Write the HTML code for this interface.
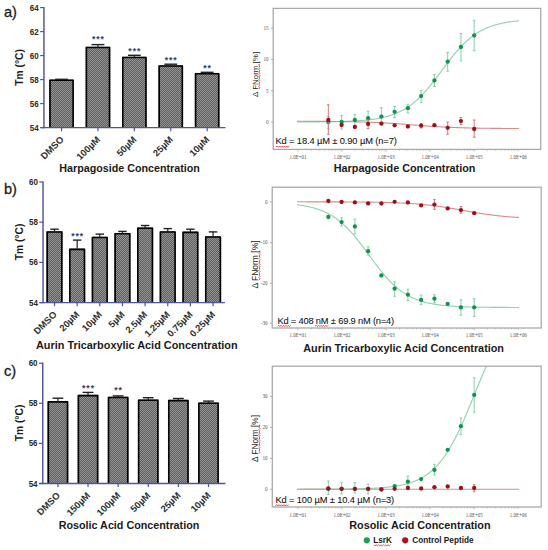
<!DOCTYPE html>
<html><head><meta charset="utf-8"><style>
html,body{margin:0;padding:0;background:#fff;width:548px;height:550px;overflow:hidden}
svg{display:block;font-family:"Liberation Sans",sans-serif}
</style></head><body>
<svg width="548" height="550" viewBox="0 0 548 550">
<defs><pattern id="chk" width="2" height="2" patternUnits="userSpaceOnUse"><rect width="2" height="2" fill="#5e5e5e"/><rect width="1" height="1" fill="#949494"/><rect x="1" y="1" width="1" height="1" fill="#949494"/></pattern></defs>
<line x1="43.95" y1="6.999999999999995" x2="43.95" y2="128.29999999999998" stroke="#52529e" stroke-width="1.45"/>
<line x1="40.150000000000006" y1="127.6" x2="43.95" y2="127.6" stroke="#52529e" stroke-width="1.2"/>
<text x="38.75" y="0" font-size="8.0" font-weight="bold" text-anchor="end" fill="#2a2a2a" transform="translate(0 130.6) scale(1 1.12)">54</text>
<line x1="40.150000000000006" y1="103.6" x2="43.95" y2="103.6" stroke="#52529e" stroke-width="1.2"/>
<text x="38.75" y="0" font-size="8.0" font-weight="bold" text-anchor="end" fill="#2a2a2a" transform="translate(0 106.6) scale(1 1.12)">56</text>
<line x1="40.150000000000006" y1="79.6" x2="43.95" y2="79.6" stroke="#52529e" stroke-width="1.2"/>
<text x="38.75" y="0" font-size="8.0" font-weight="bold" text-anchor="end" fill="#2a2a2a" transform="translate(0 82.6) scale(1 1.12)">58</text>
<line x1="40.150000000000006" y1="55.599999999999994" x2="43.95" y2="55.599999999999994" stroke="#52529e" stroke-width="1.2"/>
<text x="38.75" y="0" font-size="8.0" font-weight="bold" text-anchor="end" fill="#2a2a2a" transform="translate(0 58.599999999999994) scale(1 1.12)">60</text>
<line x1="40.150000000000006" y1="31.599999999999994" x2="43.95" y2="31.599999999999994" stroke="#52529e" stroke-width="1.2"/>
<text x="38.75" y="0" font-size="8.0" font-weight="bold" text-anchor="end" fill="#2a2a2a" transform="translate(0 34.599999999999994) scale(1 1.12)">62</text>
<line x1="40.150000000000006" y1="7.599999999999994" x2="43.95" y2="7.599999999999994" stroke="#52529e" stroke-width="1.2"/>
<text x="38.75" y="0" font-size="8.0" font-weight="bold" text-anchor="end" fill="#2a2a2a" transform="translate(0 10.599999999999994) scale(1 1.12)">64</text>
<rect x="49.2" y="79.5" width="24.7" height="48.099999999999994" fill="url(#chk)"/>
<path d="M50.0,127.6 V80.3 H73.10000000000001 V127.6" fill="none" stroke="#000" stroke-width="1.6" stroke-linejoin="round"/>
<line x1="55.12800000000001" y1="79.3" x2="67.97200000000001" y2="79.3" stroke="#222" stroke-width="1.4"/>
<rect x="85.6" y="46.7" width="24.7" height="80.89999999999999" fill="url(#chk)"/>
<path d="M86.39999999999999,127.6 V47.5 H109.5 V127.6" fill="none" stroke="#000" stroke-width="1.6" stroke-linejoin="round"/>
<line x1="97.94999999999999" y1="44.6" x2="97.94999999999999" y2="47.7" stroke="#222" stroke-width="1.2"/>
<line x1="91.52799999999999" y1="44.6" x2="104.37199999999999" y2="44.6" stroke="#222" stroke-width="1.4"/>
<text x="93.64999999999999" y="41.8" font-size="8.6" font-weight="bold" text-anchor="middle" fill="#323a62">*</text>
<text x="97.94999999999999" y="41.8" font-size="8.6" font-weight="bold" text-anchor="middle" fill="#323a62">*</text>
<text x="102.24999999999999" y="41.8" font-size="8.6" font-weight="bold" text-anchor="middle" fill="#323a62">*</text>
<rect x="122.0" y="56.7" width="24.7" height="70.89999999999999" fill="url(#chk)"/>
<path d="M122.8,127.6 V57.5 H145.89999999999998 V127.6" fill="none" stroke="#000" stroke-width="1.6" stroke-linejoin="round"/>
<line x1="134.35" y1="55.3" x2="134.35" y2="57.7" stroke="#222" stroke-width="1.2"/>
<line x1="127.928" y1="55.3" x2="140.772" y2="55.3" stroke="#222" stroke-width="1.4"/>
<text x="130.04999999999998" y="53.699999999999996" font-size="8.6" font-weight="bold" text-anchor="middle" fill="#323a62">*</text>
<text x="134.35" y="53.699999999999996" font-size="8.6" font-weight="bold" text-anchor="middle" fill="#323a62">*</text>
<text x="138.65" y="53.699999999999996" font-size="8.6" font-weight="bold" text-anchor="middle" fill="#323a62">*</text>
<rect x="158.39999999999998" y="65.2" width="24.7" height="62.39999999999999" fill="url(#chk)"/>
<path d="M159.2,127.6 V66.0 H182.29999999999995 V127.6" fill="none" stroke="#000" stroke-width="1.6" stroke-linejoin="round"/>
<line x1="170.74999999999997" y1="64.2" x2="170.74999999999997" y2="66.2" stroke="#222" stroke-width="1.2"/>
<line x1="164.32799999999997" y1="64.2" x2="177.17199999999997" y2="64.2" stroke="#222" stroke-width="1.4"/>
<text x="166.44999999999996" y="63.1" font-size="8.6" font-weight="bold" text-anchor="middle" fill="#323a62">*</text>
<text x="170.74999999999997" y="63.1" font-size="8.6" font-weight="bold" text-anchor="middle" fill="#323a62">*</text>
<text x="175.04999999999998" y="63.1" font-size="8.6" font-weight="bold" text-anchor="middle" fill="#323a62">*</text>
<rect x="194.8" y="72.9" width="24.7" height="54.69999999999999" fill="url(#chk)"/>
<path d="M195.60000000000002,127.6 V73.7 H218.7 V127.6" fill="none" stroke="#000" stroke-width="1.6" stroke-linejoin="round"/>
<line x1="207.15" y1="72.3" x2="207.15" y2="73.9" stroke="#222" stroke-width="1.2"/>
<line x1="200.728" y1="72.3" x2="213.572" y2="72.3" stroke="#222" stroke-width="1.4"/>
<text x="205.0" y="71.30000000000001" font-size="8.6" font-weight="bold" text-anchor="middle" fill="#323a62">*</text>
<text x="209.3" y="71.30000000000001" font-size="8.6" font-weight="bold" text-anchor="middle" fill="#323a62">*</text>
<line x1="40.6" y1="127.6" x2="225.5" y2="127.6" stroke="#52529e" stroke-width="1.4"/>
<line x1="61.550000000000004" y1="127.6" x2="61.550000000000004" y2="131.2" stroke="#52529e" stroke-width="1.2"/>
<text x="64.35000000000001" y="140.2" font-size="9.4" font-weight="bold" text-anchor="end" fill="#303030" transform="rotate(-45 64.35000000000001 140.2)">DMSO</text>
<line x1="97.94999999999999" y1="127.6" x2="97.94999999999999" y2="131.2" stroke="#52529e" stroke-width="1.2"/>
<text x="100.74999999999999" y="140.2" font-size="9.4" font-weight="bold" text-anchor="end" fill="#303030" transform="rotate(-45 100.74999999999999 140.2)">100µM</text>
<line x1="134.35" y1="127.6" x2="134.35" y2="131.2" stroke="#52529e" stroke-width="1.2"/>
<text x="137.15" y="140.2" font-size="9.4" font-weight="bold" text-anchor="end" fill="#303030" transform="rotate(-45 137.15 140.2)">50µM</text>
<line x1="170.74999999999997" y1="127.6" x2="170.74999999999997" y2="131.2" stroke="#52529e" stroke-width="1.2"/>
<text x="173.54999999999998" y="140.2" font-size="9.4" font-weight="bold" text-anchor="end" fill="#303030" transform="rotate(-45 173.54999999999998 140.2)">25µM</text>
<line x1="207.15" y1="127.6" x2="207.15" y2="131.2" stroke="#52529e" stroke-width="1.2"/>
<text x="209.95000000000002" y="140.2" font-size="9.4" font-weight="bold" text-anchor="end" fill="#303030" transform="rotate(-45 209.95000000000002 140.2)">10µM</text>
<text x="59.3" y="0" font-size="10.8" font-weight="bold" fill="#1a1a1a" textLength="140.5" lengthAdjust="spacingAndGlyphs" transform="translate(0 171.6) scale(1 0.95)">Harpagoside Concentration</text>
<text x="23.0" y="67.4" font-size="10.3" font-weight="bold" text-anchor="middle" fill="#1a1a1a" transform="rotate(-90 23.0 67.4)">Tm (°C)</text>
<line x1="43.05" y1="181.4" x2="43.05" y2="303.3" stroke="#52529e" stroke-width="1.45"/>
<line x1="39.25" y1="302.6" x2="43.05" y2="302.6" stroke="#52529e" stroke-width="1.2"/>
<text x="37.849999999999994" y="0" font-size="8.0" font-weight="bold" text-anchor="end" fill="#2a2a2a" transform="translate(0 305.6) scale(1 1.12)">54</text>
<line x1="39.25" y1="262.40000000000003" x2="43.05" y2="262.40000000000003" stroke="#52529e" stroke-width="1.2"/>
<text x="37.849999999999994" y="0" font-size="8.0" font-weight="bold" text-anchor="end" fill="#2a2a2a" transform="translate(0 265.40000000000003) scale(1 1.12)">56</text>
<line x1="39.25" y1="222.20000000000002" x2="43.05" y2="222.20000000000002" stroke="#52529e" stroke-width="1.2"/>
<text x="37.849999999999994" y="0" font-size="8.0" font-weight="bold" text-anchor="end" fill="#2a2a2a" transform="translate(0 225.20000000000002) scale(1 1.12)">58</text>
<line x1="39.25" y1="182.0" x2="43.05" y2="182.0" stroke="#52529e" stroke-width="1.2"/>
<text x="37.849999999999994" y="0" font-size="8.0" font-weight="bold" text-anchor="end" fill="#2a2a2a" transform="translate(0 185.0) scale(1 1.12)">60</text>
<rect x="46.4" y="231.2" width="16.2" height="71.40000000000003" fill="url(#chk)"/>
<path d="M47.199999999999996,302.6 V232.0 H61.8 V302.6" fill="none" stroke="#000" stroke-width="1.6" stroke-linejoin="round"/>
<line x1="54.5" y1="229.2" x2="54.5" y2="232.2" stroke="#222" stroke-width="1.2"/>
<line x1="50.288" y1="229.2" x2="58.712" y2="229.2" stroke="#222" stroke-width="1.4"/>
<rect x="69.05" y="248.6" width="16.2" height="54.00000000000003" fill="url(#chk)"/>
<path d="M69.85,302.6 V249.4 H84.45 V302.6" fill="none" stroke="#000" stroke-width="1.6" stroke-linejoin="round"/>
<line x1="77.14999999999999" y1="240.1" x2="77.14999999999999" y2="249.6" stroke="#222" stroke-width="1.2"/>
<line x1="72.93799999999999" y1="240.1" x2="81.362" y2="240.1" stroke="#222" stroke-width="1.4"/>
<text x="72.85" y="238.8" font-size="8.6" font-weight="bold" text-anchor="middle" fill="#323a62">*</text>
<text x="77.14999999999999" y="238.8" font-size="8.6" font-weight="bold" text-anchor="middle" fill="#323a62">*</text>
<text x="81.44999999999999" y="238.8" font-size="8.6" font-weight="bold" text-anchor="middle" fill="#323a62">*</text>
<rect x="91.69999999999999" y="236.7" width="16.2" height="65.90000000000003" fill="url(#chk)"/>
<path d="M92.49999999999999,302.6 V237.5 H107.1 V302.6" fill="none" stroke="#000" stroke-width="1.6" stroke-linejoin="round"/>
<line x1="99.79999999999998" y1="234.1" x2="99.79999999999998" y2="237.7" stroke="#222" stroke-width="1.2"/>
<line x1="95.58799999999998" y1="234.1" x2="104.01199999999999" y2="234.1" stroke="#222" stroke-width="1.4"/>
<rect x="114.35" y="232.89999999999998" width="16.2" height="69.70000000000005" fill="url(#chk)"/>
<path d="M115.14999999999999,302.6 V233.7 H129.74999999999997 V302.6" fill="none" stroke="#000" stroke-width="1.6" stroke-linejoin="round"/>
<line x1="122.44999999999999" y1="231.4" x2="122.44999999999999" y2="233.89999999999998" stroke="#222" stroke-width="1.2"/>
<line x1="118.23799999999999" y1="231.4" x2="126.66199999999999" y2="231.4" stroke="#222" stroke-width="1.4"/>
<rect x="137.0" y="227.39999999999998" width="16.2" height="75.20000000000005" fill="url(#chk)"/>
<path d="M137.8,302.6 V228.2 H152.39999999999998 V302.6" fill="none" stroke="#000" stroke-width="1.6" stroke-linejoin="round"/>
<line x1="145.1" y1="225.5" x2="145.1" y2="228.39999999999998" stroke="#222" stroke-width="1.2"/>
<line x1="140.888" y1="225.5" x2="149.31199999999998" y2="225.5" stroke="#222" stroke-width="1.4"/>
<rect x="159.65" y="231.2" width="16.2" height="71.40000000000003" fill="url(#chk)"/>
<path d="M160.45000000000002,302.6 V232.0 H175.04999999999998 V302.6" fill="none" stroke="#000" stroke-width="1.6" stroke-linejoin="round"/>
<line x1="167.75" y1="228.6" x2="167.75" y2="232.2" stroke="#222" stroke-width="1.2"/>
<line x1="163.538" y1="228.6" x2="171.962" y2="228.6" stroke="#222" stroke-width="1.4"/>
<rect x="182.29999999999998" y="231.6" width="16.2" height="71.00000000000003" fill="url(#chk)"/>
<path d="M183.1,302.6 V232.4 H197.69999999999996 V302.6" fill="none" stroke="#000" stroke-width="1.6" stroke-linejoin="round"/>
<line x1="190.39999999999998" y1="229.2" x2="190.39999999999998" y2="232.6" stroke="#222" stroke-width="1.2"/>
<line x1="186.188" y1="229.2" x2="194.61199999999997" y2="229.2" stroke="#222" stroke-width="1.4"/>
<rect x="204.95" y="236.2" width="16.2" height="66.40000000000003" fill="url(#chk)"/>
<path d="M205.75,302.6 V237.0 H220.34999999999997 V302.6" fill="none" stroke="#000" stroke-width="1.6" stroke-linejoin="round"/>
<line x1="213.04999999999998" y1="231.9" x2="213.04999999999998" y2="237.2" stroke="#222" stroke-width="1.2"/>
<line x1="208.838" y1="231.9" x2="217.26199999999997" y2="231.9" stroke="#222" stroke-width="1.4"/>
<line x1="39.6" y1="302.6" x2="224.9" y2="302.6" stroke="#52529e" stroke-width="1.4"/>
<line x1="54.5" y1="302.6" x2="54.5" y2="306.20000000000005" stroke="#52529e" stroke-width="1.2"/>
<text x="57.3" y="315.20000000000005" font-size="9.4" font-weight="bold" text-anchor="end" fill="#303030" transform="rotate(-45 57.3 315.20000000000005)">DMSO</text>
<line x1="77.14999999999999" y1="302.6" x2="77.14999999999999" y2="306.20000000000005" stroke="#52529e" stroke-width="1.2"/>
<text x="79.94999999999999" y="315.20000000000005" font-size="9.4" font-weight="bold" text-anchor="end" fill="#303030" transform="rotate(-45 79.94999999999999 315.20000000000005)">20µM</text>
<line x1="99.79999999999998" y1="302.6" x2="99.79999999999998" y2="306.20000000000005" stroke="#52529e" stroke-width="1.2"/>
<text x="102.59999999999998" y="315.20000000000005" font-size="9.4" font-weight="bold" text-anchor="end" fill="#303030" transform="rotate(-45 102.59999999999998 315.20000000000005)">10µM</text>
<line x1="122.44999999999999" y1="302.6" x2="122.44999999999999" y2="306.20000000000005" stroke="#52529e" stroke-width="1.2"/>
<text x="125.24999999999999" y="315.20000000000005" font-size="9.4" font-weight="bold" text-anchor="end" fill="#303030" transform="rotate(-45 125.24999999999999 315.20000000000005)">5µM</text>
<line x1="145.1" y1="302.6" x2="145.1" y2="306.20000000000005" stroke="#52529e" stroke-width="1.2"/>
<text x="147.9" y="315.20000000000005" font-size="9.4" font-weight="bold" text-anchor="end" fill="#303030" transform="rotate(-45 147.9 315.20000000000005)">2.5µM</text>
<line x1="167.75" y1="302.6" x2="167.75" y2="306.20000000000005" stroke="#52529e" stroke-width="1.2"/>
<text x="170.55" y="315.20000000000005" font-size="9.4" font-weight="bold" text-anchor="end" fill="#303030" transform="rotate(-45 170.55 315.20000000000005)">1.25µM</text>
<line x1="190.39999999999998" y1="302.6" x2="190.39999999999998" y2="306.20000000000005" stroke="#52529e" stroke-width="1.2"/>
<text x="193.2" y="315.20000000000005" font-size="9.4" font-weight="bold" text-anchor="end" fill="#303030" transform="rotate(-45 193.2 315.20000000000005)">0.75µM</text>
<line x1="213.04999999999998" y1="302.6" x2="213.04999999999998" y2="306.20000000000005" stroke="#52529e" stroke-width="1.2"/>
<text x="215.85" y="315.20000000000005" font-size="9.4" font-weight="bold" text-anchor="end" fill="#303030" transform="rotate(-45 215.85 315.20000000000005)">0.25µM</text>
<text x="36.0" y="0" font-size="10.8" font-weight="bold" fill="#1a1a1a" textLength="201.6" lengthAdjust="spacingAndGlyphs" transform="translate(0 349.3) scale(1 0.95)">Aurin Tricarboxylic Acid Concentration</text>
<text x="22.8" y="242.0" font-size="10.3" font-weight="bold" text-anchor="middle" fill="#1a1a1a" transform="rotate(-90 22.8 242.0)">Tm (°C)</text>
<line x1="42.75" y1="362.59999999999997" x2="42.75" y2="484.2" stroke="#52529e" stroke-width="1.45"/>
<line x1="38.95" y1="483.5" x2="42.75" y2="483.5" stroke="#52529e" stroke-width="1.2"/>
<text x="37.55" y="0" font-size="8.0" font-weight="bold" text-anchor="end" fill="#2a2a2a" transform="translate(0 486.5) scale(1 1.12)">54</text>
<line x1="38.95" y1="443.4" x2="42.75" y2="443.4" stroke="#52529e" stroke-width="1.2"/>
<text x="37.55" y="0" font-size="8.0" font-weight="bold" text-anchor="end" fill="#2a2a2a" transform="translate(0 446.4) scale(1 1.12)">56</text>
<line x1="38.95" y1="403.3" x2="42.75" y2="403.3" stroke="#52529e" stroke-width="1.2"/>
<text x="37.55" y="0" font-size="8.0" font-weight="bold" text-anchor="end" fill="#2a2a2a" transform="translate(0 406.3) scale(1 1.12)">58</text>
<line x1="38.95" y1="363.2" x2="42.75" y2="363.2" stroke="#52529e" stroke-width="1.2"/>
<text x="37.55" y="0" font-size="8.0" font-weight="bold" text-anchor="end" fill="#2a2a2a" transform="translate(0 366.2) scale(1 1.12)">60</text>
<rect x="47.5" y="401.09999999999997" width="20.8" height="82.40000000000003" fill="url(#chk)"/>
<path d="M48.3,483.5 V401.9 H67.5 V483.5" fill="none" stroke="#000" stroke-width="1.6" stroke-linejoin="round"/>
<line x1="57.9" y1="398.2" x2="57.9" y2="402.09999999999997" stroke="#222" stroke-width="1.2"/>
<line x1="52.492" y1="398.2" x2="63.308" y2="398.2" stroke="#222" stroke-width="1.4"/>
<rect x="77.62" y="394.8" width="20.8" height="88.69999999999999" fill="url(#chk)"/>
<path d="M78.42,483.5 V395.6 H97.62 V483.5" fill="none" stroke="#000" stroke-width="1.6" stroke-linejoin="round"/>
<line x1="88.02000000000001" y1="392.4" x2="88.02000000000001" y2="395.8" stroke="#222" stroke-width="1.2"/>
<line x1="82.61200000000001" y1="392.4" x2="93.42800000000001" y2="392.4" stroke="#222" stroke-width="1.4"/>
<text x="83.72000000000001" y="391.0" font-size="8.6" font-weight="bold" text-anchor="middle" fill="#323a62">*</text>
<text x="88.02000000000001" y="391.0" font-size="8.6" font-weight="bold" text-anchor="middle" fill="#323a62">*</text>
<text x="92.32000000000001" y="391.0" font-size="8.6" font-weight="bold" text-anchor="middle" fill="#323a62">*</text>
<rect x="107.74000000000001" y="396.7" width="20.8" height="86.80000000000001" fill="url(#chk)"/>
<path d="M108.54,483.5 V397.5 H127.74000000000002 V483.5" fill="none" stroke="#000" stroke-width="1.6" stroke-linejoin="round"/>
<line x1="118.14000000000001" y1="395.9" x2="118.14000000000001" y2="397.7" stroke="#222" stroke-width="1.2"/>
<line x1="112.73200000000001" y1="395.9" x2="123.54800000000002" y2="395.9" stroke="#222" stroke-width="1.4"/>
<text x="115.99000000000001" y="393.4" font-size="8.6" font-weight="bold" text-anchor="middle" fill="#323a62">*</text>
<text x="120.29000000000002" y="393.4" font-size="8.6" font-weight="bold" text-anchor="middle" fill="#323a62">*</text>
<rect x="137.86" y="399.4" width="20.8" height="84.10000000000002" fill="url(#chk)"/>
<path d="M138.66000000000003,483.5 V400.2 H157.86 V483.5" fill="none" stroke="#000" stroke-width="1.6" stroke-linejoin="round"/>
<line x1="148.26000000000002" y1="397.7" x2="148.26000000000002" y2="400.4" stroke="#222" stroke-width="1.2"/>
<line x1="142.85200000000003" y1="397.7" x2="153.668" y2="397.7" stroke="#222" stroke-width="1.4"/>
<rect x="167.98000000000002" y="399.8" width="20.8" height="83.69999999999999" fill="url(#chk)"/>
<path d="M168.78000000000003,483.5 V400.6 H187.98000000000002 V483.5" fill="none" stroke="#000" stroke-width="1.6" stroke-linejoin="round"/>
<line x1="178.38000000000002" y1="398.5" x2="178.38000000000002" y2="400.8" stroke="#222" stroke-width="1.2"/>
<line x1="172.97200000000004" y1="398.5" x2="183.788" y2="398.5" stroke="#222" stroke-width="1.4"/>
<rect x="198.1" y="402.4" width="20.8" height="81.10000000000002" fill="url(#chk)"/>
<path d="M198.9,483.5 V403.2 H218.1 V483.5" fill="none" stroke="#000" stroke-width="1.6" stroke-linejoin="round"/>
<line x1="208.5" y1="401.1" x2="208.5" y2="403.4" stroke="#222" stroke-width="1.2"/>
<line x1="203.092" y1="401.1" x2="213.908" y2="401.1" stroke="#222" stroke-width="1.4"/>
<line x1="39.2" y1="483.5" x2="225.4" y2="483.5" stroke="#52529e" stroke-width="1.4"/>
<line x1="57.9" y1="483.5" x2="57.9" y2="487.1" stroke="#52529e" stroke-width="1.2"/>
<text x="60.699999999999996" y="496.1" font-size="9.4" font-weight="bold" text-anchor="end" fill="#303030" transform="rotate(-45 60.699999999999996 496.1)">DMSO</text>
<line x1="88.02000000000001" y1="483.5" x2="88.02000000000001" y2="487.1" stroke="#52529e" stroke-width="1.2"/>
<text x="90.82000000000001" y="496.1" font-size="9.4" font-weight="bold" text-anchor="end" fill="#303030" transform="rotate(-45 90.82000000000001 496.1)">150µM</text>
<line x1="118.14000000000001" y1="483.5" x2="118.14000000000001" y2="487.1" stroke="#52529e" stroke-width="1.2"/>
<text x="120.94000000000001" y="496.1" font-size="9.4" font-weight="bold" text-anchor="end" fill="#303030" transform="rotate(-45 120.94000000000001 496.1)">100µM</text>
<line x1="148.26000000000002" y1="483.5" x2="148.26000000000002" y2="487.1" stroke="#52529e" stroke-width="1.2"/>
<text x="151.06000000000003" y="496.1" font-size="9.4" font-weight="bold" text-anchor="end" fill="#303030" transform="rotate(-45 151.06000000000003 496.1)">50µM</text>
<line x1="178.38000000000002" y1="483.5" x2="178.38000000000002" y2="487.1" stroke="#52529e" stroke-width="1.2"/>
<text x="181.18000000000004" y="496.1" font-size="9.4" font-weight="bold" text-anchor="end" fill="#303030" transform="rotate(-45 181.18000000000004 496.1)">25µM</text>
<line x1="208.5" y1="483.5" x2="208.5" y2="487.1" stroke="#52529e" stroke-width="1.2"/>
<text x="211.3" y="496.1" font-size="9.4" font-weight="bold" text-anchor="end" fill="#303030" transform="rotate(-45 211.3 496.1)">10µM</text>
<text x="58.7" y="0" font-size="10.8" font-weight="bold" fill="#1a1a1a" textLength="140.60000000000002" lengthAdjust="spacingAndGlyphs" transform="translate(0 529.0) scale(1 0.95)">Rosolic Acid Concentration</text>
<text x="22.8" y="423.0" font-size="10.3" font-weight="bold" text-anchor="middle" fill="#1a1a1a" transform="rotate(-90 22.8 423.0)">Tm (°C)</text>
<text x="3.9" y="16.6" font-size="14.6" fill="#1a1a1a" stroke="#1a1a1a" stroke-width="0.3">a)</text>
<text x="3.9" y="193.8" font-size="14.6" fill="#1a1a1a" stroke="#1a1a1a" stroke-width="0.3">b)</text>
<text x="3.9" y="376.4" font-size="14.6" fill="#1a1a1a" stroke="#1a1a1a" stroke-width="0.3">c)</text>
<clipPath id="ca"><rect x="273.2" y="8.4" width="267.50000000000006" height="141.0"/></clipPath>
<line x1="271.0" y1="28.2" x2="273.2" y2="28.2" stroke="#999" stroke-width="0.8"/>
<text x="268.59999999999997" y="29.9" font-family="Liberation Serif" font-size="5.2" text-anchor="end" fill="#555">15</text>
<line x1="271.0" y1="59.5" x2="273.2" y2="59.5" stroke="#999" stroke-width="0.8"/>
<text x="268.59999999999997" y="61.2" font-family="Liberation Serif" font-size="5.2" text-anchor="end" fill="#555">10</text>
<line x1="271.0" y1="90.8" x2="273.2" y2="90.8" stroke="#999" stroke-width="0.8"/>
<text x="268.59999999999997" y="92.5" font-family="Liberation Serif" font-size="5.2" text-anchor="end" fill="#555">5</text>
<line x1="271.0" y1="122.1" x2="273.2" y2="122.1" stroke="#999" stroke-width="0.8"/>
<text x="268.59999999999997" y="123.8" font-family="Liberation Serif" font-size="5.2" text-anchor="end" fill="#555">0</text>
<line x1="298.00" y1="149.4" x2="298.00" y2="151.6" stroke="#999" stroke-width="0.7"/>
<line x1="311.26" y1="149.4" x2="311.26" y2="150.70000000000002" stroke="#999" stroke-width="0.7"/>
<line x1="319.02" y1="149.4" x2="319.02" y2="150.70000000000002" stroke="#999" stroke-width="0.7"/>
<line x1="324.52" y1="149.4" x2="324.52" y2="150.70000000000002" stroke="#999" stroke-width="0.7"/>
<line x1="328.79" y1="149.4" x2="328.79" y2="150.70000000000002" stroke="#999" stroke-width="0.7"/>
<line x1="332.28" y1="149.4" x2="332.28" y2="150.70000000000002" stroke="#999" stroke-width="0.7"/>
<line x1="335.23" y1="149.4" x2="335.23" y2="150.70000000000002" stroke="#999" stroke-width="0.7"/>
<line x1="337.78" y1="149.4" x2="337.78" y2="150.70000000000002" stroke="#999" stroke-width="0.7"/>
<line x1="340.03" y1="149.4" x2="340.03" y2="150.70000000000002" stroke="#999" stroke-width="0.7"/>
<line x1="342.05" y1="149.4" x2="342.05" y2="151.6" stroke="#999" stroke-width="0.7"/>
<line x1="355.31" y1="149.4" x2="355.31" y2="150.70000000000002" stroke="#999" stroke-width="0.7"/>
<line x1="363.07" y1="149.4" x2="363.07" y2="150.70000000000002" stroke="#999" stroke-width="0.7"/>
<line x1="368.57" y1="149.4" x2="368.57" y2="150.70000000000002" stroke="#999" stroke-width="0.7"/>
<line x1="372.84" y1="149.4" x2="372.84" y2="150.70000000000002" stroke="#999" stroke-width="0.7"/>
<line x1="376.33" y1="149.4" x2="376.33" y2="150.70000000000002" stroke="#999" stroke-width="0.7"/>
<line x1="379.28" y1="149.4" x2="379.28" y2="150.70000000000002" stroke="#999" stroke-width="0.7"/>
<line x1="381.83" y1="149.4" x2="381.83" y2="150.70000000000002" stroke="#999" stroke-width="0.7"/>
<line x1="384.08" y1="149.4" x2="384.08" y2="150.70000000000002" stroke="#999" stroke-width="0.7"/>
<line x1="386.10" y1="149.4" x2="386.10" y2="151.6" stroke="#999" stroke-width="0.7"/>
<line x1="399.36" y1="149.4" x2="399.36" y2="150.70000000000002" stroke="#999" stroke-width="0.7"/>
<line x1="407.12" y1="149.4" x2="407.12" y2="150.70000000000002" stroke="#999" stroke-width="0.7"/>
<line x1="412.62" y1="149.4" x2="412.62" y2="150.70000000000002" stroke="#999" stroke-width="0.7"/>
<line x1="416.89" y1="149.4" x2="416.89" y2="150.70000000000002" stroke="#999" stroke-width="0.7"/>
<line x1="420.38" y1="149.4" x2="420.38" y2="150.70000000000002" stroke="#999" stroke-width="0.7"/>
<line x1="423.33" y1="149.4" x2="423.33" y2="150.70000000000002" stroke="#999" stroke-width="0.7"/>
<line x1="425.88" y1="149.4" x2="425.88" y2="150.70000000000002" stroke="#999" stroke-width="0.7"/>
<line x1="428.13" y1="149.4" x2="428.13" y2="150.70000000000002" stroke="#999" stroke-width="0.7"/>
<line x1="430.15" y1="149.4" x2="430.15" y2="151.6" stroke="#999" stroke-width="0.7"/>
<line x1="443.41" y1="149.4" x2="443.41" y2="150.70000000000002" stroke="#999" stroke-width="0.7"/>
<line x1="451.17" y1="149.4" x2="451.17" y2="150.70000000000002" stroke="#999" stroke-width="0.7"/>
<line x1="456.67" y1="149.4" x2="456.67" y2="150.70000000000002" stroke="#999" stroke-width="0.7"/>
<line x1="460.94" y1="149.4" x2="460.94" y2="150.70000000000002" stroke="#999" stroke-width="0.7"/>
<line x1="464.43" y1="149.4" x2="464.43" y2="150.70000000000002" stroke="#999" stroke-width="0.7"/>
<line x1="467.38" y1="149.4" x2="467.38" y2="150.70000000000002" stroke="#999" stroke-width="0.7"/>
<line x1="469.93" y1="149.4" x2="469.93" y2="150.70000000000002" stroke="#999" stroke-width="0.7"/>
<line x1="472.18" y1="149.4" x2="472.18" y2="150.70000000000002" stroke="#999" stroke-width="0.7"/>
<line x1="474.20" y1="149.4" x2="474.20" y2="151.6" stroke="#999" stroke-width="0.7"/>
<line x1="487.46" y1="149.4" x2="487.46" y2="150.70000000000002" stroke="#999" stroke-width="0.7"/>
<line x1="495.22" y1="149.4" x2="495.22" y2="150.70000000000002" stroke="#999" stroke-width="0.7"/>
<line x1="500.72" y1="149.4" x2="500.72" y2="150.70000000000002" stroke="#999" stroke-width="0.7"/>
<line x1="504.99" y1="149.4" x2="504.99" y2="150.70000000000002" stroke="#999" stroke-width="0.7"/>
<line x1="508.48" y1="149.4" x2="508.48" y2="150.70000000000002" stroke="#999" stroke-width="0.7"/>
<line x1="511.43" y1="149.4" x2="511.43" y2="150.70000000000002" stroke="#999" stroke-width="0.7"/>
<line x1="513.98" y1="149.4" x2="513.98" y2="150.70000000000002" stroke="#999" stroke-width="0.7"/>
<line x1="516.23" y1="149.4" x2="516.23" y2="150.70000000000002" stroke="#999" stroke-width="0.7"/>
<line x1="518.25" y1="149.4" x2="518.25" y2="151.6" stroke="#aaa" stroke-width="0.6"/>
<text x="298.00" y="0" font-family="Liberation Serif" font-size="5.0" text-anchor="middle" fill="#555" transform="translate(0 159.0) scale(1 1.25)">1.0E+01</text>
<text x="342.05" y="0" font-family="Liberation Serif" font-size="5.0" text-anchor="middle" fill="#555" transform="translate(0 159.0) scale(1 1.25)">1.0E+02</text>
<text x="386.10" y="0" font-family="Liberation Serif" font-size="5.0" text-anchor="middle" fill="#555" transform="translate(0 159.0) scale(1 1.25)">1.0E+03</text>
<text x="430.15" y="0" font-family="Liberation Serif" font-size="5.0" text-anchor="middle" fill="#555" transform="translate(0 159.0) scale(1 1.25)">1.0E+04</text>
<text x="474.20" y="0" font-family="Liberation Serif" font-size="5.0" text-anchor="middle" fill="#555" transform="translate(0 159.0) scale(1 1.25)">1.0E+05</text>
<text x="518.25" y="0" font-family="Liberation Serif" font-size="5.0" text-anchor="middle" fill="#555" transform="translate(0 159.0) scale(1 1.25)">1.0E+06</text>
<polyline points="297.0,121.95 298.0,121.94 299.0,121.94 300.0,121.94 301.0,121.93 302.0,121.93 303.0,121.93 304.0,121.92 305.0,121.92 306.0,121.92 307.0,121.91 308.0,121.91 309.0,121.90 310.0,121.90 311.0,121.89 312.0,121.88 313.0,121.88 314.0,121.87 315.0,121.86 316.0,121.86 317.0,121.85 318.0,121.84 319.0,121.83 320.0,121.82 321.0,121.81 322.0,121.80 323.0,121.79 324.0,121.78 325.0,121.77 326.0,121.76 327.0,121.75 328.0,121.73 329.0,121.72 330.0,121.70 331.0,121.69 332.0,121.67 333.0,121.65 334.0,121.63 335.0,121.61 336.0,121.59 337.0,121.57 338.0,121.55 339.0,121.53 340.0,121.50 341.0,121.47 342.0,121.44 343.0,121.42 344.0,121.38 345.0,121.35 346.0,121.32 347.0,121.28 348.0,121.24 349.0,121.20 350.0,121.16 351.0,121.11 352.0,121.07 353.0,121.02 354.0,120.97 355.0,120.91 356.0,120.85 357.0,120.79 358.0,120.73 359.0,120.66 360.0,120.59 361.0,120.52 362.0,120.44 363.0,120.35 364.0,120.27 365.0,120.18 366.0,120.08 367.0,119.98 368.0,119.87 369.0,119.76 370.0,119.64 371.0,119.52 372.0,119.39 373.0,119.25 374.0,119.11 375.0,118.96 376.0,118.80 377.0,118.64 378.0,118.46 379.0,118.28 380.0,118.09 381.0,117.89 382.0,117.67 383.0,117.45 384.0,117.22 385.0,116.97 386.0,116.72 387.0,116.45 388.0,116.17 389.0,115.88 390.0,115.57 391.0,115.25 392.0,114.91 393.0,114.55 394.0,114.19 395.0,113.80 396.0,113.40 397.0,112.97 398.0,112.53 399.0,112.08 400.0,111.60 401.0,111.10 402.0,110.58 403.0,110.04 404.0,109.47 405.0,108.89 406.0,108.28 407.0,107.64 408.0,106.98 409.0,106.30 410.0,105.59 411.0,104.86 412.0,104.10 413.0,103.31 414.0,102.50 415.0,101.66 416.0,100.79 417.0,99.90 418.0,98.98 419.0,98.03 420.0,97.06 421.0,96.05 422.0,95.03 423.0,93.97 424.0,92.89 425.0,91.79 426.0,90.66 427.0,89.51 428.0,88.34 429.0,87.14 430.0,85.93 431.0,84.69 432.0,83.44 433.0,82.17 434.0,80.89 435.0,79.59 436.0,78.28 437.0,76.96 438.0,75.63 439.0,74.29 440.0,72.95 441.0,71.61 442.0,70.26 443.0,68.92 444.0,67.57 445.0,66.23 446.0,64.90 447.0,63.57 448.0,62.26 449.0,60.95 450.0,59.66 451.0,58.38 452.0,57.12 453.0,55.87 454.0,54.64 455.0,53.43 456.0,52.25 457.0,51.08 458.0,49.94 459.0,48.82 460.0,47.72 461.0,46.65 462.0,45.61 463.0,44.59 464.0,43.60 465.0,42.63 466.0,41.69 467.0,40.78 468.0,39.90 469.0,39.04 470.0,38.21 471.0,37.41 472.0,36.63 473.0,35.88 474.0,35.15 475.0,34.46 476.0,33.78 477.0,33.13 478.0,32.51 479.0,31.90 480.0,31.33 481.0,30.77 482.0,30.24 483.0,29.72 484.0,29.23 485.0,28.76 486.0,28.31 487.0,27.87 488.0,27.46 489.0,27.06 490.0,26.68 491.0,26.32 492.0,25.97 493.0,25.64 494.0,25.32 495.0,25.02 496.0,24.73 497.0,24.45 498.0,24.19 499.0,23.94 500.0,23.70 501.0,23.47 502.0,23.25 503.0,23.04 504.0,22.84 505.0,22.66 506.0,22.48 507.0,22.30 508.0,22.14 509.0,21.99 510.0,21.84 511.0,21.70 512.0,21.56 513.0,21.44 514.0,21.31 515.0,21.20 516.0,21.09 517.0,20.99 518.0,20.89 519.0,20.79" fill="none" stroke="#8fd0b0" stroke-width="1.1" clip-path="url(#ca)"/>
<polyline points="297.0,121.26 298.0,121.26 299.0,121.26 300.0,121.27 301.0,121.27 302.0,121.27 303.0,121.28 304.0,121.28 305.0,121.28 306.0,121.29 307.0,121.29 308.0,121.29 309.0,121.30 310.0,121.30 311.0,121.30 312.0,121.31 313.0,121.31 314.0,121.32 315.0,121.32 316.0,121.33 317.0,121.33 318.0,121.34 319.0,121.35 320.0,121.35 321.0,121.36 322.0,121.36 323.0,121.37 324.0,121.38 325.0,121.39 326.0,121.39 327.0,121.40 328.0,121.41 329.0,121.42 330.0,121.43 331.0,121.44 332.0,121.45 333.0,121.46 334.0,121.47 335.0,121.48 336.0,121.49 337.0,121.50 338.0,121.51 339.0,121.53 340.0,121.54 341.0,121.55 342.0,121.57 343.0,121.58 344.0,121.60 345.0,121.61 346.0,121.63 347.0,121.65 348.0,121.67 349.0,121.69 350.0,121.70 351.0,121.72 352.0,121.75 353.0,121.77 354.0,121.79 355.0,121.81 356.0,121.84 357.0,121.86 358.0,121.89 359.0,121.91 360.0,121.94 361.0,121.97 362.0,122.00 363.0,122.03 364.0,122.06 365.0,122.09 366.0,122.13 367.0,122.16 368.0,122.19 369.0,122.23 370.0,122.27 371.0,122.31 372.0,122.35 373.0,122.39 374.0,122.43 375.0,122.48 376.0,122.52 377.0,122.57 378.0,122.61 379.0,122.66 380.0,122.71 381.0,122.76 382.0,122.81 383.0,122.87 384.0,122.92 385.0,122.98 386.0,123.04 387.0,123.09 388.0,123.15 389.0,123.21 390.0,123.28 391.0,123.34 392.0,123.40 393.0,123.47 394.0,123.53 395.0,123.60 396.0,123.67 397.0,123.74 398.0,123.81 399.0,123.88 400.0,123.95 401.0,124.02 402.0,124.10 403.0,124.17 404.0,124.25 405.0,124.32 406.0,124.40 407.0,124.47 408.0,124.55 409.0,124.63 410.0,124.70 411.0,124.78 412.0,124.86 413.0,124.94 414.0,125.01 415.0,125.09 416.0,125.17 417.0,125.24 418.0,125.32 419.0,125.40 420.0,125.47 421.0,125.55 422.0,125.62 423.0,125.70 424.0,125.77 425.0,125.84 426.0,125.92 427.0,125.99 428.0,126.06 429.0,126.13 430.0,126.19 431.0,126.26 432.0,126.33 433.0,126.39 434.0,126.46 435.0,126.52 436.0,126.58 437.0,126.64 438.0,126.70 439.0,126.76 440.0,126.82 441.0,126.87 442.0,126.93 443.0,126.98 444.0,127.04 445.0,127.09 446.0,127.14 447.0,127.18 448.0,127.23 449.0,127.28 450.0,127.32 451.0,127.37 452.0,127.41 453.0,127.45 454.0,127.49 455.0,127.53 456.0,127.57 457.0,127.60 458.0,127.64 459.0,127.67 460.0,127.71 461.0,127.74 462.0,127.77 463.0,127.80 464.0,127.83 465.0,127.86 466.0,127.89 467.0,127.91 468.0,127.94 469.0,127.96 470.0,127.99 471.0,128.01 472.0,128.03 473.0,128.05 474.0,128.07 475.0,128.09 476.0,128.11 477.0,128.13 478.0,128.15 479.0,128.17 480.0,128.18 481.0,128.20 482.0,128.22 483.0,128.23 484.0,128.25 485.0,128.26 486.0,128.27 487.0,128.29 488.0,128.30 489.0,128.31 490.0,128.32 491.0,128.33 492.0,128.34 493.0,128.35 494.0,128.36 495.0,128.37 496.0,128.38 497.0,128.39 498.0,128.40 499.0,128.41 500.0,128.41 501.0,128.42 502.0,128.43 503.0,128.44 504.0,128.44 505.0,128.45 506.0,128.45 507.0,128.46 508.0,128.47 509.0,128.47 510.0,128.48 511.0,128.48 512.0,128.49 513.0,128.49 514.0,128.50 515.0,128.50 516.0,128.50 517.0,128.51 518.0,128.51 519.0,128.51" fill="none" stroke="#d88a8f" stroke-width="1.1" clip-path="url(#ca)"/>
<line x1="328.3359135" y1="116.3" x2="328.3359135" y2="129" stroke="#7cc8a2" stroke-width="0.9"/>
<line x1="327.0359135" y1="116.3" x2="329.6359135" y2="116.3" stroke="#7cc8a2" stroke-width="0.9"/>
<line x1="327.0359135" y1="129" x2="329.6359135" y2="129" stroke="#7cc8a2" stroke-width="0.9"/>
<circle cx="328.3359135" cy="122" r="2.15" fill="#12924f"/>
<line x1="341.596285" y1="115.5" x2="341.596285" y2="129" stroke="#7cc8a2" stroke-width="0.9"/>
<line x1="340.296285" y1="115.5" x2="342.89628500000003" y2="115.5" stroke="#7cc8a2" stroke-width="0.9"/>
<line x1="340.296285" y1="129" x2="342.89628500000003" y2="129" stroke="#7cc8a2" stroke-width="0.9"/>
<circle cx="341.596285" cy="122" r="2.15" fill="#12924f"/>
<line x1="354.8566565" y1="114.3" x2="354.8566565" y2="125.3" stroke="#7cc8a2" stroke-width="0.9"/>
<line x1="353.5566565" y1="114.3" x2="356.1566565" y2="114.3" stroke="#7cc8a2" stroke-width="0.9"/>
<line x1="353.5566565" y1="125.3" x2="356.1566565" y2="125.3" stroke="#7cc8a2" stroke-width="0.9"/>
<circle cx="354.8566565" cy="120" r="2.15" fill="#12924f"/>
<line x1="368.117028" y1="111.3" x2="368.117028" y2="124.5" stroke="#7cc8a2" stroke-width="0.9"/>
<line x1="366.817028" y1="111.3" x2="369.417028" y2="111.3" stroke="#7cc8a2" stroke-width="0.9"/>
<line x1="366.817028" y1="124.5" x2="369.417028" y2="124.5" stroke="#7cc8a2" stroke-width="0.9"/>
<circle cx="368.117028" cy="118.2" r="2.15" fill="#12924f"/>
<line x1="381.37739949999997" y1="107.7" x2="381.37739949999997" y2="122" stroke="#7cc8a2" stroke-width="0.9"/>
<line x1="380.07739949999996" y1="107.7" x2="382.6773995" y2="107.7" stroke="#7cc8a2" stroke-width="0.9"/>
<line x1="380.07739949999996" y1="122" x2="382.6773995" y2="122" stroke="#7cc8a2" stroke-width="0.9"/>
<circle cx="381.37739949999997" cy="116.6" r="2.15" fill="#12924f"/>
<line x1="394.637771" y1="106.4" x2="394.637771" y2="117.6" stroke="#7cc8a2" stroke-width="0.9"/>
<line x1="393.337771" y1="106.4" x2="395.937771" y2="106.4" stroke="#7cc8a2" stroke-width="0.9"/>
<line x1="393.337771" y1="117.6" x2="395.937771" y2="117.6" stroke="#7cc8a2" stroke-width="0.9"/>
<circle cx="394.637771" cy="111.8" r="2.15" fill="#12924f"/>
<line x1="407.8981425" y1="104.3" x2="407.8981425" y2="112.9" stroke="#7cc8a2" stroke-width="0.9"/>
<line x1="406.5981425" y1="104.3" x2="409.1981425" y2="104.3" stroke="#7cc8a2" stroke-width="0.9"/>
<line x1="406.5981425" y1="112.9" x2="409.1981425" y2="112.9" stroke="#7cc8a2" stroke-width="0.9"/>
<circle cx="407.8981425" cy="108.2" r="2.15" fill="#12924f"/>
<line x1="421.15851399999997" y1="90.4" x2="421.15851399999997" y2="102.4" stroke="#7cc8a2" stroke-width="0.9"/>
<line x1="419.85851399999996" y1="90.4" x2="422.458514" y2="90.4" stroke="#7cc8a2" stroke-width="0.9"/>
<line x1="419.85851399999996" y1="102.4" x2="422.458514" y2="102.4" stroke="#7cc8a2" stroke-width="0.9"/>
<circle cx="421.15851399999997" cy="96.1" r="2.15" fill="#12924f"/>
<line x1="434.4188855" y1="74.4" x2="434.4188855" y2="86.6" stroke="#7cc8a2" stroke-width="0.9"/>
<line x1="433.1188855" y1="74.4" x2="435.7188855" y2="74.4" stroke="#7cc8a2" stroke-width="0.9"/>
<line x1="433.1188855" y1="86.6" x2="435.7188855" y2="86.6" stroke="#7cc8a2" stroke-width="0.9"/>
<circle cx="434.4188855" cy="80.5" r="2.15" fill="#12924f"/>
<line x1="447.679257" y1="52.4" x2="447.679257" y2="71.1" stroke="#7cc8a2" stroke-width="0.9"/>
<line x1="446.379257" y1="52.4" x2="448.979257" y2="52.4" stroke="#7cc8a2" stroke-width="0.9"/>
<line x1="446.379257" y1="71.1" x2="448.979257" y2="71.1" stroke="#7cc8a2" stroke-width="0.9"/>
<circle cx="447.679257" cy="61.7" r="2.15" fill="#12924f"/>
<line x1="460.9396285" y1="33.5" x2="460.9396285" y2="60.9" stroke="#7cc8a2" stroke-width="0.9"/>
<line x1="459.6396285" y1="33.5" x2="462.23962850000004" y2="33.5" stroke="#7cc8a2" stroke-width="0.9"/>
<line x1="459.6396285" y1="60.9" x2="462.23962850000004" y2="60.9" stroke="#7cc8a2" stroke-width="0.9"/>
<circle cx="460.9396285" cy="47" r="2.15" fill="#12924f"/>
<line x1="474.2" y1="20.2" x2="474.2" y2="50.7" stroke="#7cc8a2" stroke-width="0.9"/>
<line x1="472.9" y1="20.2" x2="475.5" y2="20.2" stroke="#7cc8a2" stroke-width="0.9"/>
<line x1="472.9" y1="50.7" x2="475.5" y2="50.7" stroke="#7cc8a2" stroke-width="0.9"/>
<circle cx="474.2" cy="35.5" r="2.15" fill="#12924f"/>
<line x1="328.3359135" y1="104.8" x2="328.3359135" y2="134.3" stroke="#cf6b72" stroke-width="0.9"/>
<line x1="327.0359135" y1="104.8" x2="329.6359135" y2="104.8" stroke="#cf6b72" stroke-width="0.9"/>
<line x1="327.0359135" y1="134.3" x2="329.6359135" y2="134.3" stroke="#cf6b72" stroke-width="0.9"/>
<circle cx="328.3359135" cy="119.9" r="2.15" fill="#9e0f18"/>
<circle cx="341.596285" cy="125" r="2.15" fill="#9e0f18"/>
<circle cx="354.8566565" cy="127" r="2.15" fill="#9e0f18"/>
<line x1="368.117028" y1="120" x2="368.117028" y2="128.6" stroke="#cf6b72" stroke-width="0.9"/>
<line x1="366.817028" y1="120" x2="369.417028" y2="120" stroke="#cf6b72" stroke-width="0.9"/>
<line x1="366.817028" y1="128.6" x2="369.417028" y2="128.6" stroke="#cf6b72" stroke-width="0.9"/>
<circle cx="368.117028" cy="124" r="2.15" fill="#9e0f18"/>
<circle cx="381.37739949999997" cy="123.7" r="2.15" fill="#9e0f18"/>
<circle cx="394.637771" cy="125.3" r="2.15" fill="#9e0f18"/>
<circle cx="407.8981425" cy="126.5" r="2.15" fill="#9e0f18"/>
<line x1="421.15851399999997" y1="123.5" x2="421.15851399999997" y2="128" stroke="#cf6b72" stroke-width="0.9"/>
<line x1="419.85851399999996" y1="123.5" x2="422.458514" y2="123.5" stroke="#cf6b72" stroke-width="0.9"/>
<line x1="419.85851399999996" y1="128" x2="422.458514" y2="128" stroke="#cf6b72" stroke-width="0.9"/>
<circle cx="421.15851399999997" cy="125.7" r="2.15" fill="#9e0f18"/>
<circle cx="434.4188855" cy="125.2" r="2.15" fill="#9e0f18"/>
<line x1="447.679257" y1="122" x2="447.679257" y2="134.2" stroke="#cf6b72" stroke-width="0.9"/>
<line x1="446.379257" y1="122" x2="448.979257" y2="122" stroke="#cf6b72" stroke-width="0.9"/>
<line x1="446.379257" y1="134.2" x2="448.979257" y2="134.2" stroke="#cf6b72" stroke-width="0.9"/>
<circle cx="447.679257" cy="127.8" r="2.15" fill="#9e0f18"/>
<line x1="460.9396285" y1="117.5" x2="460.9396285" y2="124.5" stroke="#cf6b72" stroke-width="0.9"/>
<line x1="459.6396285" y1="117.5" x2="462.23962850000004" y2="117.5" stroke="#cf6b72" stroke-width="0.9"/>
<line x1="459.6396285" y1="124.5" x2="462.23962850000004" y2="124.5" stroke="#cf6b72" stroke-width="0.9"/>
<circle cx="460.9396285" cy="121.1" r="2.15" fill="#9e0f18"/>
<line x1="474.2" y1="120" x2="474.2" y2="137.2" stroke="#cf6b72" stroke-width="0.9"/>
<line x1="472.9" y1="120" x2="475.5" y2="120" stroke="#cf6b72" stroke-width="0.9"/>
<line x1="472.9" y1="137.2" x2="475.5" y2="137.2" stroke="#cf6b72" stroke-width="0.9"/>
<circle cx="474.2" cy="129" r="2.15" fill="#9e0f18"/>
<rect x="273.2" y="8.4" width="267.50000000000006" height="141.0" fill="none" stroke="#aaaaaa" stroke-width="1.3"/>
<text x="257.8" y="74.4" font-size="7.95" text-anchor="middle" fill="#222" transform="rotate(-90 257.8 74.4)">Δ FNorm [%]</text>
<path d="M259.0,88.87307692307692 L259.9,87.7 L258.8,86.5 L259.9,85.3 L258.8,84.1 L259.9,82.9 L258.8,81.7 L259.9,80.5 L258.8,79.3 L259.9,78.1 L258.8,76.9 L259.9,75.7 L258.8,74.5 L259.9,73.3 L258.8,72.1 L259.9,70.9 L258.8,69.7 L259.9,68.5 L258.8,67.3 L259.9,66.1 L258.8,64.9 L259.9,63.7" fill="none" stroke="#e62a2a" stroke-width="0.85"/>
<text x="275.4" y="144.3" font-size="9.3" fill="#111" stroke="#111" stroke-width="0.08" textLength="121.4" lengthAdjust="spacing">Kd = 18.4 µM ± 0.90 µM (n=7)</text>
<path d="M276,146.9 L277.2,146.1 L278.4,147.3 L279.6,146.1 L280.8,147.3 L282.0,146.1 L283.2,147.3 L284.4,146.1 L285.6,147.3 L286.8,146.1 L288.0,147.3 L289.2,146.1" fill="none" stroke="#e62a2a" stroke-width="0.9"/>
<text x="333.8" y="0" font-size="10.8" font-weight="bold" fill="#1a1a1a" textLength="141.59999999999997" lengthAdjust="spacingAndGlyphs" transform="translate(0 171.6) scale(1 0.95)">Harpagoside Concentration</text>
<clipPath id="cb"><rect x="272.2" y="187.2" width="269.00000000000006" height="140.8"/></clipPath>
<line x1="270.0" y1="202.0" x2="272.2" y2="202.0" stroke="#999" stroke-width="0.8"/>
<text x="267.59999999999997" y="203.7" font-family="Liberation Serif" font-size="5.2" text-anchor="end" fill="#555">0</text>
<line x1="270.0" y1="242.7" x2="272.2" y2="242.7" stroke="#999" stroke-width="0.8"/>
<text x="267.59999999999997" y="244.39999999999998" font-family="Liberation Serif" font-size="5.2" text-anchor="end" fill="#555">-10</text>
<line x1="270.0" y1="283.4" x2="272.2" y2="283.4" stroke="#999" stroke-width="0.8"/>
<text x="267.59999999999997" y="285.09999999999997" font-family="Liberation Serif" font-size="5.2" text-anchor="end" fill="#555">-20</text>
<line x1="270.0" y1="323.1" x2="272.2" y2="323.1" stroke="#999" stroke-width="0.8"/>
<text x="267.59999999999997" y="324.8" font-family="Liberation Serif" font-size="5.2" text-anchor="end" fill="#555">-30</text>
<line x1="298.00" y1="328.0" x2="298.00" y2="330.2" stroke="#999" stroke-width="0.7"/>
<line x1="311.26" y1="328.0" x2="311.26" y2="329.3" stroke="#999" stroke-width="0.7"/>
<line x1="319.02" y1="328.0" x2="319.02" y2="329.3" stroke="#999" stroke-width="0.7"/>
<line x1="324.52" y1="328.0" x2="324.52" y2="329.3" stroke="#999" stroke-width="0.7"/>
<line x1="328.79" y1="328.0" x2="328.79" y2="329.3" stroke="#999" stroke-width="0.7"/>
<line x1="332.28" y1="328.0" x2="332.28" y2="329.3" stroke="#999" stroke-width="0.7"/>
<line x1="335.23" y1="328.0" x2="335.23" y2="329.3" stroke="#999" stroke-width="0.7"/>
<line x1="337.78" y1="328.0" x2="337.78" y2="329.3" stroke="#999" stroke-width="0.7"/>
<line x1="340.03" y1="328.0" x2="340.03" y2="329.3" stroke="#999" stroke-width="0.7"/>
<line x1="342.05" y1="328.0" x2="342.05" y2="330.2" stroke="#999" stroke-width="0.7"/>
<line x1="355.31" y1="328.0" x2="355.31" y2="329.3" stroke="#999" stroke-width="0.7"/>
<line x1="363.07" y1="328.0" x2="363.07" y2="329.3" stroke="#999" stroke-width="0.7"/>
<line x1="368.57" y1="328.0" x2="368.57" y2="329.3" stroke="#999" stroke-width="0.7"/>
<line x1="372.84" y1="328.0" x2="372.84" y2="329.3" stroke="#999" stroke-width="0.7"/>
<line x1="376.33" y1="328.0" x2="376.33" y2="329.3" stroke="#999" stroke-width="0.7"/>
<line x1="379.28" y1="328.0" x2="379.28" y2="329.3" stroke="#999" stroke-width="0.7"/>
<line x1="381.83" y1="328.0" x2="381.83" y2="329.3" stroke="#999" stroke-width="0.7"/>
<line x1="384.08" y1="328.0" x2="384.08" y2="329.3" stroke="#999" stroke-width="0.7"/>
<line x1="386.10" y1="328.0" x2="386.10" y2="330.2" stroke="#999" stroke-width="0.7"/>
<line x1="399.36" y1="328.0" x2="399.36" y2="329.3" stroke="#999" stroke-width="0.7"/>
<line x1="407.12" y1="328.0" x2="407.12" y2="329.3" stroke="#999" stroke-width="0.7"/>
<line x1="412.62" y1="328.0" x2="412.62" y2="329.3" stroke="#999" stroke-width="0.7"/>
<line x1="416.89" y1="328.0" x2="416.89" y2="329.3" stroke="#999" stroke-width="0.7"/>
<line x1="420.38" y1="328.0" x2="420.38" y2="329.3" stroke="#999" stroke-width="0.7"/>
<line x1="423.33" y1="328.0" x2="423.33" y2="329.3" stroke="#999" stroke-width="0.7"/>
<line x1="425.88" y1="328.0" x2="425.88" y2="329.3" stroke="#999" stroke-width="0.7"/>
<line x1="428.13" y1="328.0" x2="428.13" y2="329.3" stroke="#999" stroke-width="0.7"/>
<line x1="430.15" y1="328.0" x2="430.15" y2="330.2" stroke="#999" stroke-width="0.7"/>
<line x1="443.41" y1="328.0" x2="443.41" y2="329.3" stroke="#999" stroke-width="0.7"/>
<line x1="451.17" y1="328.0" x2="451.17" y2="329.3" stroke="#999" stroke-width="0.7"/>
<line x1="456.67" y1="328.0" x2="456.67" y2="329.3" stroke="#999" stroke-width="0.7"/>
<line x1="460.94" y1="328.0" x2="460.94" y2="329.3" stroke="#999" stroke-width="0.7"/>
<line x1="464.43" y1="328.0" x2="464.43" y2="329.3" stroke="#999" stroke-width="0.7"/>
<line x1="467.38" y1="328.0" x2="467.38" y2="329.3" stroke="#999" stroke-width="0.7"/>
<line x1="469.93" y1="328.0" x2="469.93" y2="329.3" stroke="#999" stroke-width="0.7"/>
<line x1="472.18" y1="328.0" x2="472.18" y2="329.3" stroke="#999" stroke-width="0.7"/>
<line x1="474.20" y1="328.0" x2="474.20" y2="330.2" stroke="#999" stroke-width="0.7"/>
<line x1="487.46" y1="328.0" x2="487.46" y2="329.3" stroke="#999" stroke-width="0.7"/>
<line x1="495.22" y1="328.0" x2="495.22" y2="329.3" stroke="#999" stroke-width="0.7"/>
<line x1="500.72" y1="328.0" x2="500.72" y2="329.3" stroke="#999" stroke-width="0.7"/>
<line x1="504.99" y1="328.0" x2="504.99" y2="329.3" stroke="#999" stroke-width="0.7"/>
<line x1="508.48" y1="328.0" x2="508.48" y2="329.3" stroke="#999" stroke-width="0.7"/>
<line x1="511.43" y1="328.0" x2="511.43" y2="329.3" stroke="#999" stroke-width="0.7"/>
<line x1="513.98" y1="328.0" x2="513.98" y2="329.3" stroke="#999" stroke-width="0.7"/>
<line x1="516.23" y1="328.0" x2="516.23" y2="329.3" stroke="#999" stroke-width="0.7"/>
<line x1="518.25" y1="328.0" x2="518.25" y2="330.2" stroke="#aaa" stroke-width="0.6"/>
<text x="298.00" y="0" font-family="Liberation Serif" font-size="5.0" text-anchor="middle" fill="#555" transform="translate(0 337.0) scale(1 1.25)">1.0E+01</text>
<text x="342.05" y="0" font-family="Liberation Serif" font-size="5.0" text-anchor="middle" fill="#555" transform="translate(0 337.0) scale(1 1.25)">1.0E+02</text>
<text x="386.10" y="0" font-family="Liberation Serif" font-size="5.0" text-anchor="middle" fill="#555" transform="translate(0 337.0) scale(1 1.25)">1.0E+03</text>
<text x="430.15" y="0" font-family="Liberation Serif" font-size="5.0" text-anchor="middle" fill="#555" transform="translate(0 337.0) scale(1 1.25)">1.0E+04</text>
<text x="474.20" y="0" font-family="Liberation Serif" font-size="5.0" text-anchor="middle" fill="#555" transform="translate(0 337.0) scale(1 1.25)">1.0E+05</text>
<text x="518.25" y="0" font-family="Liberation Serif" font-size="5.0" text-anchor="middle" fill="#555" transform="translate(0 337.0) scale(1 1.25)">1.0E+06</text>
<polyline points="297.0,204.79 298.0,204.92 299.0,205.05 300.0,205.19 301.0,205.33 302.0,205.49 303.0,205.65 304.0,205.82 305.0,205.99 306.0,206.18 307.0,206.37 308.0,206.58 309.0,206.79 310.0,207.02 311.0,207.25 312.0,207.50 313.0,207.76 314.0,208.03 315.0,208.32 316.0,208.62 317.0,208.93 318.0,209.26 319.0,209.60 320.0,209.96 321.0,210.34 322.0,210.73 323.0,211.14 324.0,211.57 325.0,212.01 326.0,212.48 327.0,212.97 328.0,213.47 329.0,214.00 330.0,214.55 331.0,215.13 332.0,215.72 333.0,216.34 334.0,216.99 335.0,217.66 336.0,218.35 337.0,219.07 338.0,219.82 339.0,220.59 340.0,221.39 341.0,222.22 342.0,223.07 343.0,223.95 344.0,224.86 345.0,225.80 346.0,226.76 347.0,227.76 348.0,228.77 349.0,229.82 350.0,230.89 351.0,231.99 352.0,233.12 353.0,234.26 354.0,235.44 355.0,236.63 356.0,237.85 357.0,239.09 358.0,240.35 359.0,241.62 360.0,242.92 361.0,244.22 362.0,245.55 363.0,246.88 364.0,248.23 365.0,249.58 366.0,250.95 367.0,252.31 368.0,253.69 369.0,255.06 370.0,256.43 371.0,257.80 372.0,259.17 373.0,260.53 374.0,261.89 375.0,263.23 376.0,264.56 377.0,265.88 378.0,267.19 379.0,268.48 380.0,269.76 381.0,271.01 382.0,272.25 383.0,273.46 384.0,274.65 385.0,275.82 386.0,276.96 387.0,278.08 388.0,279.18 389.0,280.25 390.0,281.29 391.0,282.30 392.0,283.29 393.0,284.25 394.0,285.18 395.0,286.09 396.0,286.97 397.0,287.82 398.0,288.64 399.0,289.43 400.0,290.20 401.0,290.95 402.0,291.66 403.0,292.35 404.0,293.02 405.0,293.66 406.0,294.27 407.0,294.87 408.0,295.44 409.0,295.98 410.0,296.51 411.0,297.01 412.0,297.50 413.0,297.96 414.0,298.40 415.0,298.83 416.0,299.23 417.0,299.62 418.0,300.00 419.0,300.35 420.0,300.69 421.0,301.02 422.0,301.33 423.0,301.63 424.0,301.91 425.0,302.18 426.0,302.44 427.0,302.68 428.0,302.92 429.0,303.14 430.0,303.35 431.0,303.56 432.0,303.75 433.0,303.94 434.0,304.11 435.0,304.28 436.0,304.44 437.0,304.59 438.0,304.73 439.0,304.87 440.0,305.00 441.0,305.13 442.0,305.24 443.0,305.36 444.0,305.46 445.0,305.57 446.0,305.66 447.0,305.75 448.0,305.84 449.0,305.93 450.0,306.00 451.0,306.08 452.0,306.15 453.0,306.22 454.0,306.28 455.0,306.34 456.0,306.40 457.0,306.46 458.0,306.51 459.0,306.56 460.0,306.61 461.0,306.65 462.0,306.70 463.0,306.74 464.0,306.78 465.0,306.81 466.0,306.85 467.0,306.88 468.0,306.91 469.0,306.94 470.0,306.97 471.0,307.00 472.0,307.02 473.0,307.05 474.0,307.07 475.0,307.09 476.0,307.11 477.0,307.13 478.0,307.15 479.0,307.17 480.0,307.18 481.0,307.20 482.0,307.22 483.0,307.23 484.0,307.24 485.0,307.26 486.0,307.27 487.0,307.28 488.0,307.29 489.0,307.30 490.0,307.31 491.0,307.32 492.0,307.33 493.0,307.34 494.0,307.35 495.0,307.36 496.0,307.36 497.0,307.37 498.0,307.38 499.0,307.38 500.0,307.39 501.0,307.39 502.0,307.40 503.0,307.41 504.0,307.41 505.0,307.41 506.0,307.42 507.0,307.42 508.0,307.43 509.0,307.43 510.0,307.43 511.0,307.44 512.0,307.44 513.0,307.44 514.0,307.45 515.0,307.45 516.0,307.45 517.0,307.45 518.0,307.46 519.0,307.46" fill="none" stroke="#8fd0b0" stroke-width="1.1" clip-path="url(#cb)"/>
<polyline points="297.0,201.82 298.0,201.82 299.0,201.82 300.0,201.82 301.0,201.82 302.0,201.82 303.0,201.82 304.0,201.82 305.0,201.82 306.0,201.82 307.0,201.83 308.0,201.83 309.0,201.83 310.0,201.83 311.0,201.83 312.0,201.83 313.0,201.83 314.0,201.83 315.0,201.83 316.0,201.84 317.0,201.84 318.0,201.84 319.0,201.84 320.0,201.84 321.0,201.84 322.0,201.85 323.0,201.85 324.0,201.85 325.0,201.85 326.0,201.86 327.0,201.86 328.0,201.86 329.0,201.86 330.0,201.87 331.0,201.87 332.0,201.87 333.0,201.87 334.0,201.88 335.0,201.88 336.0,201.88 337.0,201.89 338.0,201.89 339.0,201.90 340.0,201.90 341.0,201.90 342.0,201.91 343.0,201.91 344.0,201.92 345.0,201.92 346.0,201.93 347.0,201.93 348.0,201.94 349.0,201.94 350.0,201.95 351.0,201.96 352.0,201.96 353.0,201.97 354.0,201.98 355.0,201.98 356.0,201.99 357.0,202.00 358.0,202.01 359.0,202.02 360.0,202.03 361.0,202.04 362.0,202.05 363.0,202.06 364.0,202.07 365.0,202.08 366.0,202.09 367.0,202.10 368.0,202.12 369.0,202.13 370.0,202.14 371.0,202.16 372.0,202.17 373.0,202.19 374.0,202.20 375.0,202.22 376.0,202.24 377.0,202.26 378.0,202.27 379.0,202.29 380.0,202.31 381.0,202.34 382.0,202.36 383.0,202.38 384.0,202.41 385.0,202.43 386.0,202.46 387.0,202.48 388.0,202.51 389.0,202.54 390.0,202.57 391.0,202.60 392.0,202.63 393.0,202.67 394.0,202.70 395.0,202.74 396.0,202.78 397.0,202.82 398.0,202.86 399.0,202.90 400.0,202.94 401.0,202.99 402.0,203.04 403.0,203.08 404.0,203.14 405.0,203.19 406.0,203.24 407.0,203.30 408.0,203.36 409.0,203.42 410.0,203.48 411.0,203.54 412.0,203.61 413.0,203.68 414.0,203.75 415.0,203.82 416.0,203.90 417.0,203.98 418.0,204.06 419.0,204.14 420.0,204.23 421.0,204.32 422.0,204.41 423.0,204.50 424.0,204.60 425.0,204.70 426.0,204.80 427.0,204.90 428.0,205.01 429.0,205.12 430.0,205.24 431.0,205.35 432.0,205.47 433.0,205.59 434.0,205.72 435.0,205.85 436.0,205.98 437.0,206.11 438.0,206.25 439.0,206.39 440.0,206.53 441.0,206.67 442.0,206.82 443.0,206.97 444.0,207.12 445.0,207.28 446.0,207.44 447.0,207.60 448.0,207.76 449.0,207.92 450.0,208.09 451.0,208.25 452.0,208.42 453.0,208.60 454.0,208.77 455.0,208.94 456.0,209.12 457.0,209.29 458.0,209.47 459.0,209.65 460.0,209.83 461.0,210.01 462.0,210.19 463.0,210.37 464.0,210.55 465.0,210.73 466.0,210.91 467.0,211.08 468.0,211.26 469.0,211.44 470.0,211.62 471.0,211.79 472.0,211.97 473.0,212.14 474.0,212.31 475.0,212.48 476.0,212.65 477.0,212.82 478.0,212.98 479.0,213.14 480.0,213.30 481.0,213.46 482.0,213.62 483.0,213.77 484.0,213.92 485.0,214.07 486.0,214.22 487.0,214.36 488.0,214.50 489.0,214.64 490.0,214.77 491.0,214.90 492.0,215.03 493.0,215.16 494.0,215.28 495.0,215.40 496.0,215.52 497.0,215.64 498.0,215.75 499.0,215.86 500.0,215.96 501.0,216.07 502.0,216.17 503.0,216.26 504.0,216.36 505.0,216.45 506.0,216.54 507.0,216.63 508.0,216.71 509.0,216.79 510.0,216.87 511.0,216.95 512.0,217.02 513.0,217.09 514.0,217.16 515.0,217.23 516.0,217.30 517.0,217.36 518.0,217.42 519.0,217.48" fill="none" stroke="#d88a8f" stroke-width="1.1" clip-path="url(#cb)"/>
<circle cx="328.3359135" cy="217" r="2.15" fill="#12924f"/>
<line x1="341.596285" y1="217.7" x2="341.596285" y2="226" stroke="#7cc8a2" stroke-width="0.9"/>
<line x1="340.296285" y1="217.7" x2="342.89628500000003" y2="217.7" stroke="#7cc8a2" stroke-width="0.9"/>
<line x1="340.296285" y1="226" x2="342.89628500000003" y2="226" stroke="#7cc8a2" stroke-width="0.9"/>
<circle cx="341.596285" cy="222.1" r="2.15" fill="#12924f"/>
<line x1="354.8566565" y1="219.2" x2="354.8566565" y2="233.8" stroke="#7cc8a2" stroke-width="0.9"/>
<line x1="353.5566565" y1="219.2" x2="356.1566565" y2="219.2" stroke="#7cc8a2" stroke-width="0.9"/>
<line x1="353.5566565" y1="233.8" x2="356.1566565" y2="233.8" stroke="#7cc8a2" stroke-width="0.9"/>
<circle cx="354.8566565" cy="226.5" r="2.15" fill="#12924f"/>
<line x1="368.117028" y1="246.7" x2="368.117028" y2="255" stroke="#7cc8a2" stroke-width="0.9"/>
<line x1="366.817028" y1="246.7" x2="369.417028" y2="246.7" stroke="#7cc8a2" stroke-width="0.9"/>
<line x1="366.817028" y1="255" x2="369.417028" y2="255" stroke="#7cc8a2" stroke-width="0.9"/>
<circle cx="368.117028" cy="251.2" r="2.15" fill="#12924f"/>
<circle cx="381.37739949999997" cy="275.5" r="2.15" fill="#12924f"/>
<line x1="394.637771" y1="281.7" x2="394.637771" y2="296.3" stroke="#7cc8a2" stroke-width="0.9"/>
<line x1="393.337771" y1="281.7" x2="395.937771" y2="281.7" stroke="#7cc8a2" stroke-width="0.9"/>
<line x1="393.337771" y1="296.3" x2="395.937771" y2="296.3" stroke="#7cc8a2" stroke-width="0.9"/>
<circle cx="394.637771" cy="288.7" r="2.15" fill="#12924f"/>
<line x1="407.8981425" y1="289.2" x2="407.8981425" y2="300.6" stroke="#7cc8a2" stroke-width="0.9"/>
<line x1="406.5981425" y1="289.2" x2="409.1981425" y2="289.2" stroke="#7cc8a2" stroke-width="0.9"/>
<line x1="406.5981425" y1="300.6" x2="409.1981425" y2="300.6" stroke="#7cc8a2" stroke-width="0.9"/>
<circle cx="407.8981425" cy="294.7" r="2.15" fill="#12924f"/>
<line x1="421.15851399999997" y1="295.1" x2="421.15851399999997" y2="304.6" stroke="#7cc8a2" stroke-width="0.9"/>
<line x1="419.85851399999996" y1="295.1" x2="422.458514" y2="295.1" stroke="#7cc8a2" stroke-width="0.9"/>
<line x1="419.85851399999996" y1="304.6" x2="422.458514" y2="304.6" stroke="#7cc8a2" stroke-width="0.9"/>
<circle cx="421.15851399999997" cy="299.9" r="2.15" fill="#12924f"/>
<line x1="434.4188855" y1="294.7" x2="434.4188855" y2="302.9" stroke="#7cc8a2" stroke-width="0.9"/>
<line x1="433.1188855" y1="294.7" x2="435.7188855" y2="294.7" stroke="#7cc8a2" stroke-width="0.9"/>
<line x1="433.1188855" y1="302.9" x2="435.7188855" y2="302.9" stroke="#7cc8a2" stroke-width="0.9"/>
<circle cx="434.4188855" cy="298.7" r="2.15" fill="#12924f"/>
<circle cx="447.679257" cy="303.9" r="2.15" fill="#12924f"/>
<line x1="460.9396285" y1="299.9" x2="460.9396285" y2="315.2" stroke="#7cc8a2" stroke-width="0.9"/>
<line x1="459.6396285" y1="299.9" x2="462.23962850000004" y2="299.9" stroke="#7cc8a2" stroke-width="0.9"/>
<line x1="459.6396285" y1="315.2" x2="462.23962850000004" y2="315.2" stroke="#7cc8a2" stroke-width="0.9"/>
<circle cx="460.9396285" cy="307.4" r="2.15" fill="#12924f"/>
<line x1="474.2" y1="298.7" x2="474.2" y2="316.4" stroke="#7cc8a2" stroke-width="0.9"/>
<line x1="472.9" y1="298.7" x2="475.5" y2="298.7" stroke="#7cc8a2" stroke-width="0.9"/>
<line x1="472.9" y1="316.4" x2="475.5" y2="316.4" stroke="#7cc8a2" stroke-width="0.9"/>
<circle cx="474.2" cy="307.4" r="2.15" fill="#12924f"/>
<circle cx="328.3359135" cy="201" r="2.15" fill="#9e0f18"/>
<circle cx="341.596285" cy="202" r="2.15" fill="#9e0f18"/>
<circle cx="354.8566565" cy="202.4" r="2.15" fill="#9e0f18"/>
<circle cx="368.117028" cy="203.4" r="2.15" fill="#9e0f18"/>
<circle cx="381.37739949999997" cy="203.5" r="2.15" fill="#9e0f18"/>
<circle cx="394.637771" cy="201.8" r="2.15" fill="#9e0f18"/>
<circle cx="407.8981425" cy="202.5" r="2.15" fill="#9e0f18"/>
<circle cx="421.15851399999997" cy="205.4" r="2.15" fill="#9e0f18"/>
<line x1="434.4188855" y1="199.4" x2="434.4188855" y2="209.4" stroke="#cf6b72" stroke-width="0.9"/>
<line x1="433.1188855" y1="199.4" x2="435.7188855" y2="199.4" stroke="#cf6b72" stroke-width="0.9"/>
<line x1="433.1188855" y1="209.4" x2="435.7188855" y2="209.4" stroke="#cf6b72" stroke-width="0.9"/>
<circle cx="434.4188855" cy="204.6" r="2.15" fill="#9e0f18"/>
<circle cx="447.679257" cy="208.4" r="2.15" fill="#9e0f18"/>
<line x1="460.9396285" y1="206.5" x2="460.9396285" y2="213.2" stroke="#cf6b72" stroke-width="0.9"/>
<line x1="459.6396285" y1="206.5" x2="462.23962850000004" y2="206.5" stroke="#cf6b72" stroke-width="0.9"/>
<line x1="459.6396285" y1="213.2" x2="462.23962850000004" y2="213.2" stroke="#cf6b72" stroke-width="0.9"/>
<circle cx="460.9396285" cy="210.1" r="2.15" fill="#9e0f18"/>
<circle cx="474.2" cy="213.2" r="2.15" fill="#9e0f18"/>
<rect x="272.2" y="187.2" width="269.00000000000006" height="140.8" fill="none" stroke="#aaaaaa" stroke-width="1.3"/>
<text x="258.0" y="264.5" font-size="8.5" text-anchor="middle" fill="#222" transform="rotate(-90 258.0 264.5)">Δ FNorm [%]</text>
<path d="M259.2,279.97435897435895 L260.1,278.8 L259.0,277.6 L260.1,276.4 L259.0,275.2 L260.1,274.0 L259.0,272.8 L260.1,271.6 L259.0,270.4 L260.1,269.2 L259.0,268.0 L260.1,266.8 L259.0,265.6 L260.1,264.4 L259.0,263.2 L260.1,262.0 L259.0,260.8 L260.1,259.6 L259.0,258.4 L260.1,257.2 L259.0,256.0 L260.1,254.8 L259.0,253.6 L260.1,252.4" fill="none" stroke="#e62a2a" stroke-width="0.85"/>
<text x="277.4" y="323.5" font-size="9.3" fill="#111" stroke="#111" stroke-width="0.08" textLength="116.8" lengthAdjust="spacing">Kd = 408 nM ± 69.9 nM (n=4)</text>
<path d="M277.5,326.1 L278.7,325.3 L279.9,326.5 L281.1,325.3 L282.3,326.5 L283.5,325.3 L284.7,326.5 L285.9,325.3 L287.1,326.5 L288.3,325.3 L289.5,326.5 L290.7,325.3" fill="none" stroke="#e62a2a" stroke-width="0.9"/>
<path d="M315,326.1 L316.2,325.3 L317.4,326.5 L318.6,325.3 L319.8,326.5 L321.0,325.3 L322.2,326.5 L323.4,325.3 L324.6,326.5 L325.8,325.3 L327.0,326.5 L328.2,325.3" fill="none" stroke="#e62a2a" stroke-width="0.9"/>
<text x="303.3" y="0" font-size="10.8" font-weight="bold" fill="#1a1a1a" textLength="200.7" lengthAdjust="spacingAndGlyphs" transform="translate(0 352.2) scale(1 0.95)">Aurin Tricarboxylic Acid Concentration</text>
<clipPath id="cc"><rect x="272.3" y="366.2" width="268.90000000000003" height="140.8"/></clipPath>
<line x1="270.1" y1="396.5" x2="272.3" y2="396.5" stroke="#999" stroke-width="0.8"/>
<text x="267.7" y="398.2" font-family="Liberation Serif" font-size="5.2" text-anchor="end" fill="#555">30</text>
<line x1="270.1" y1="427.5" x2="272.3" y2="427.5" stroke="#999" stroke-width="0.8"/>
<text x="267.7" y="429.2" font-family="Liberation Serif" font-size="5.2" text-anchor="end" fill="#555">20</text>
<line x1="270.1" y1="458.4" x2="272.3" y2="458.4" stroke="#999" stroke-width="0.8"/>
<text x="267.7" y="460.09999999999997" font-family="Liberation Serif" font-size="5.2" text-anchor="end" fill="#555">10</text>
<line x1="270.1" y1="489.2" x2="272.3" y2="489.2" stroke="#999" stroke-width="0.8"/>
<text x="267.7" y="490.9" font-family="Liberation Serif" font-size="5.2" text-anchor="end" fill="#555">0</text>
<line x1="298.00" y1="507.0" x2="298.00" y2="509.2" stroke="#999" stroke-width="0.7"/>
<line x1="311.26" y1="507.0" x2="311.26" y2="508.3" stroke="#999" stroke-width="0.7"/>
<line x1="319.02" y1="507.0" x2="319.02" y2="508.3" stroke="#999" stroke-width="0.7"/>
<line x1="324.52" y1="507.0" x2="324.52" y2="508.3" stroke="#999" stroke-width="0.7"/>
<line x1="328.79" y1="507.0" x2="328.79" y2="508.3" stroke="#999" stroke-width="0.7"/>
<line x1="332.28" y1="507.0" x2="332.28" y2="508.3" stroke="#999" stroke-width="0.7"/>
<line x1="335.23" y1="507.0" x2="335.23" y2="508.3" stroke="#999" stroke-width="0.7"/>
<line x1="337.78" y1="507.0" x2="337.78" y2="508.3" stroke="#999" stroke-width="0.7"/>
<line x1="340.03" y1="507.0" x2="340.03" y2="508.3" stroke="#999" stroke-width="0.7"/>
<line x1="342.05" y1="507.0" x2="342.05" y2="509.2" stroke="#999" stroke-width="0.7"/>
<line x1="355.31" y1="507.0" x2="355.31" y2="508.3" stroke="#999" stroke-width="0.7"/>
<line x1="363.07" y1="507.0" x2="363.07" y2="508.3" stroke="#999" stroke-width="0.7"/>
<line x1="368.57" y1="507.0" x2="368.57" y2="508.3" stroke="#999" stroke-width="0.7"/>
<line x1="372.84" y1="507.0" x2="372.84" y2="508.3" stroke="#999" stroke-width="0.7"/>
<line x1="376.33" y1="507.0" x2="376.33" y2="508.3" stroke="#999" stroke-width="0.7"/>
<line x1="379.28" y1="507.0" x2="379.28" y2="508.3" stroke="#999" stroke-width="0.7"/>
<line x1="381.83" y1="507.0" x2="381.83" y2="508.3" stroke="#999" stroke-width="0.7"/>
<line x1="384.08" y1="507.0" x2="384.08" y2="508.3" stroke="#999" stroke-width="0.7"/>
<line x1="386.10" y1="507.0" x2="386.10" y2="509.2" stroke="#999" stroke-width="0.7"/>
<line x1="399.36" y1="507.0" x2="399.36" y2="508.3" stroke="#999" stroke-width="0.7"/>
<line x1="407.12" y1="507.0" x2="407.12" y2="508.3" stroke="#999" stroke-width="0.7"/>
<line x1="412.62" y1="507.0" x2="412.62" y2="508.3" stroke="#999" stroke-width="0.7"/>
<line x1="416.89" y1="507.0" x2="416.89" y2="508.3" stroke="#999" stroke-width="0.7"/>
<line x1="420.38" y1="507.0" x2="420.38" y2="508.3" stroke="#999" stroke-width="0.7"/>
<line x1="423.33" y1="507.0" x2="423.33" y2="508.3" stroke="#999" stroke-width="0.7"/>
<line x1="425.88" y1="507.0" x2="425.88" y2="508.3" stroke="#999" stroke-width="0.7"/>
<line x1="428.13" y1="507.0" x2="428.13" y2="508.3" stroke="#999" stroke-width="0.7"/>
<line x1="430.15" y1="507.0" x2="430.15" y2="509.2" stroke="#999" stroke-width="0.7"/>
<line x1="443.41" y1="507.0" x2="443.41" y2="508.3" stroke="#999" stroke-width="0.7"/>
<line x1="451.17" y1="507.0" x2="451.17" y2="508.3" stroke="#999" stroke-width="0.7"/>
<line x1="456.67" y1="507.0" x2="456.67" y2="508.3" stroke="#999" stroke-width="0.7"/>
<line x1="460.94" y1="507.0" x2="460.94" y2="508.3" stroke="#999" stroke-width="0.7"/>
<line x1="464.43" y1="507.0" x2="464.43" y2="508.3" stroke="#999" stroke-width="0.7"/>
<line x1="467.38" y1="507.0" x2="467.38" y2="508.3" stroke="#999" stroke-width="0.7"/>
<line x1="469.93" y1="507.0" x2="469.93" y2="508.3" stroke="#999" stroke-width="0.7"/>
<line x1="472.18" y1="507.0" x2="472.18" y2="508.3" stroke="#999" stroke-width="0.7"/>
<line x1="474.20" y1="507.0" x2="474.20" y2="509.2" stroke="#999" stroke-width="0.7"/>
<line x1="487.46" y1="507.0" x2="487.46" y2="508.3" stroke="#999" stroke-width="0.7"/>
<line x1="495.22" y1="507.0" x2="495.22" y2="508.3" stroke="#999" stroke-width="0.7"/>
<line x1="500.72" y1="507.0" x2="500.72" y2="508.3" stroke="#999" stroke-width="0.7"/>
<line x1="504.99" y1="507.0" x2="504.99" y2="508.3" stroke="#999" stroke-width="0.7"/>
<line x1="508.48" y1="507.0" x2="508.48" y2="508.3" stroke="#999" stroke-width="0.7"/>
<line x1="511.43" y1="507.0" x2="511.43" y2="508.3" stroke="#999" stroke-width="0.7"/>
<line x1="513.98" y1="507.0" x2="513.98" y2="508.3" stroke="#999" stroke-width="0.7"/>
<line x1="516.23" y1="507.0" x2="516.23" y2="508.3" stroke="#999" stroke-width="0.7"/>
<line x1="518.25" y1="507.0" x2="518.25" y2="509.2" stroke="#aaa" stroke-width="0.6"/>
<text x="298.00" y="0" font-family="Liberation Serif" font-size="5.0" text-anchor="middle" fill="#555" transform="translate(0 516.6999999999999) scale(1 1.25)">1.0E+01</text>
<text x="342.05" y="0" font-family="Liberation Serif" font-size="5.0" text-anchor="middle" fill="#555" transform="translate(0 516.6999999999999) scale(1 1.25)">1.0E+02</text>
<text x="386.10" y="0" font-family="Liberation Serif" font-size="5.0" text-anchor="middle" fill="#555" transform="translate(0 516.6999999999999) scale(1 1.25)">1.0E+03</text>
<text x="430.15" y="0" font-family="Liberation Serif" font-size="5.0" text-anchor="middle" fill="#555" transform="translate(0 516.6999999999999) scale(1 1.25)">1.0E+04</text>
<text x="474.20" y="0" font-family="Liberation Serif" font-size="5.0" text-anchor="middle" fill="#555" transform="translate(0 516.6999999999999) scale(1 1.25)">1.0E+05</text>
<text x="518.25" y="0" font-family="Liberation Serif" font-size="5.0" text-anchor="middle" fill="#555" transform="translate(0 516.6999999999999) scale(1 1.25)">1.0E+06</text>
<polyline points="297.0,489.18 298.0,489.18 299.0,489.18 300.0,489.18 301.0,489.18 302.0,489.18 303.0,489.18 304.0,489.17 305.0,489.17 306.0,489.17 307.0,489.17 308.0,489.17 309.0,489.17 310.0,489.16 311.0,489.16 312.0,489.16 313.0,489.16 314.0,489.16 315.0,489.15 316.0,489.15 317.0,489.15 318.0,489.15 319.0,489.14 320.0,489.14 321.0,489.14 322.0,489.13 323.0,489.13 324.0,489.13 325.0,489.12 326.0,489.12 327.0,489.11 328.0,489.11 329.0,489.10 330.0,489.10 331.0,489.09 332.0,489.09 333.0,489.08 334.0,489.08 335.0,489.07 336.0,489.06 337.0,489.06 338.0,489.05 339.0,489.04 340.0,489.03 341.0,489.02 342.0,489.01 343.0,489.00 344.0,488.99 345.0,488.98 346.0,488.97 347.0,488.96 348.0,488.94 349.0,488.93 350.0,488.92 351.0,488.90 352.0,488.88 353.0,488.87 354.0,488.85 355.0,488.83 356.0,488.81 357.0,488.79 358.0,488.77 359.0,488.74 360.0,488.72 361.0,488.69 362.0,488.67 363.0,488.64 364.0,488.61 365.0,488.58 366.0,488.54 367.0,488.51 368.0,488.47 369.0,488.43 370.0,488.39 371.0,488.35 372.0,488.30 373.0,488.26 374.0,488.21 375.0,488.15 376.0,488.10 377.0,488.04 378.0,487.98 379.0,487.91 380.0,487.84 381.0,487.77 382.0,487.69 383.0,487.61 384.0,487.53 385.0,487.44 386.0,487.35 387.0,487.25 388.0,487.14 389.0,487.04 390.0,486.92 391.0,486.80 392.0,486.67 393.0,486.54 394.0,486.40 395.0,486.25 396.0,486.09 397.0,485.93 398.0,485.76 399.0,485.58 400.0,485.39 401.0,485.19 402.0,484.98 403.0,484.75 404.0,484.52 405.0,484.28 406.0,484.02 407.0,483.75 408.0,483.47 409.0,483.17 410.0,482.86 411.0,482.53 412.0,482.18 413.0,481.82 414.0,481.44 415.0,481.04 416.0,480.63 417.0,480.19 418.0,479.73 419.0,479.25 420.0,478.74 421.0,478.22 422.0,477.66 423.0,477.08 424.0,476.48 425.0,475.84 426.0,475.18 427.0,474.49 428.0,473.76 429.0,473.00 430.0,472.21 431.0,471.39 432.0,470.53 433.0,469.63 434.0,468.69 435.0,467.72 436.0,466.70 437.0,465.65 438.0,464.55 439.0,463.41 440.0,462.22 441.0,460.99 442.0,459.71 443.0,458.39 444.0,457.02 445.0,455.60 446.0,454.13 447.0,452.62 448.0,451.05 449.0,449.44 450.0,447.77 451.0,446.06 452.0,444.30 453.0,442.49 454.0,440.63 455.0,438.72 456.0,436.77 457.0,434.77 458.0,432.72 459.0,430.63 460.0,428.50 461.0,426.33 462.0,424.13 463.0,421.88 464.0,419.61 465.0,417.30 466.0,414.96 467.0,412.60 468.0,410.22 469.0,407.81 470.0,405.39 471.0,402.95 472.0,400.50 473.0,398.05 474.0,395.59 475.0,393.13 476.0,390.68 477.0,388.23 478.0,385.78 479.0,383.36 480.0,380.94 481.0,378.55 482.0,376.18 483.0,373.83 484.0,371.51 485.0,369.22 486.0,366.97 487.0,364.74 488.0,362.56 489.0,360.41 490.0,358.31 491.0,356.25 492.0,354.23 493.0,352.26 494.0,350.33 495.0,348.45 496.0,346.62 497.0,344.84 498.0,343.11 499.0,341.42 500.0,339.79 501.0,338.20 502.0,336.67 503.0,335.18 504.0,333.74 505.0,332.35 506.0,331.01 507.0,329.72 508.0,328.47 509.0,327.26 510.0,326.10 511.0,324.99 512.0,323.91 513.0,322.88 514.0,321.89 515.0,320.94 516.0,320.03 517.0,319.15 518.0,318.31 519.0,317.51" fill="none" stroke="#8fd0b0" stroke-width="1.1" clip-path="url(#cc)"/>
<polyline points="297.0,489.20 298.0,489.20 299.0,489.20 300.0,489.20 301.0,489.20 302.0,489.20 303.0,489.20 304.0,489.20 305.0,489.20 306.0,489.20 307.0,489.20 308.0,489.20 309.0,489.20 310.0,489.20 311.0,489.20 312.0,489.20 313.0,489.20 314.0,489.20 315.0,489.20 316.0,489.20 317.0,489.20 318.0,489.20 319.0,489.20 320.0,489.20 321.0,489.20 322.0,489.20 323.0,489.20 324.0,489.20 325.0,489.20 326.0,489.20 327.0,489.20 328.0,489.20 329.0,489.20 330.0,489.20 331.0,489.20 332.0,489.20 333.0,489.20 334.0,489.20 335.0,489.20 336.0,489.20 337.0,489.20 338.0,489.20 339.0,489.20 340.0,489.20 341.0,489.20 342.0,489.20 343.0,489.20 344.0,489.20 345.0,489.20 346.0,489.20 347.0,489.20 348.0,489.20 349.0,489.20 350.0,489.20 351.0,489.20 352.0,489.20 353.0,489.20 354.0,489.20 355.0,489.20 356.0,489.20 357.0,489.20 358.0,489.20 359.0,489.20 360.0,489.20 361.0,489.20 362.0,489.20 363.0,489.20 364.0,489.20 365.0,489.20 366.0,489.20 367.0,489.20 368.0,489.20 369.0,489.20 370.0,489.20 371.0,489.20 372.0,489.20 373.0,489.20 374.0,489.20 375.0,489.20 376.0,489.20 377.0,489.20 378.0,489.20 379.0,489.20 380.0,489.20 381.0,489.20 382.0,489.20 383.0,489.20 384.0,489.20 385.0,489.20 386.0,489.20 387.0,489.20 388.0,489.20 389.0,489.20 390.0,489.20 391.0,489.20 392.0,489.20 393.0,489.20 394.0,489.20 395.0,489.20 396.0,489.20 397.0,489.20 398.0,489.20 399.0,489.20 400.0,489.20 401.0,489.20 402.0,489.20 403.0,489.20 404.0,489.20 405.0,489.20 406.0,489.20 407.0,489.20 408.0,489.20 409.0,489.20 410.0,489.20 411.0,489.20 412.0,489.20 413.0,489.20 414.0,489.20 415.0,489.20 416.0,489.20 417.0,489.20 418.0,489.20 419.0,489.20 420.0,489.20 421.0,489.20 422.0,489.20 423.0,489.20 424.0,489.20 425.0,489.20 426.0,489.20 427.0,489.20 428.0,489.20 429.0,489.20 430.0,489.20 431.0,489.20 432.0,489.20 433.0,489.20 434.0,489.20 435.0,489.20 436.0,489.20 437.0,489.20 438.0,489.20 439.0,489.20 440.0,489.20 441.0,489.20 442.0,489.20 443.0,489.20 444.0,489.20 445.0,489.20 446.0,489.20 447.0,489.20 448.0,489.20 449.0,489.20 450.0,489.20 451.0,489.20 452.0,489.20 453.0,489.20 454.0,489.20 455.0,489.20 456.0,489.20 457.0,489.20 458.0,489.20 459.0,489.20 460.0,489.20 461.0,489.20 462.0,489.20 463.0,489.20 464.0,489.20 465.0,489.20 466.0,489.20 467.0,489.20 468.0,489.20 469.0,489.20 470.0,489.20 471.0,489.20 472.0,489.20 473.0,489.20 474.0,489.20 475.0,489.20 476.0,489.20 477.0,489.20 478.0,489.20 479.0,489.20 480.0,489.20 481.0,489.20 482.0,489.20 483.0,489.20 484.0,489.20 485.0,489.20 486.0,489.20 487.0,489.20 488.0,489.20 489.0,489.20 490.0,489.20 491.0,489.20 492.0,489.20 493.0,489.20 494.0,489.20 495.0,489.20 496.0,489.20 497.0,489.20 498.0,489.20 499.0,489.20 500.0,489.20 501.0,489.20 502.0,489.20 503.0,489.20 504.0,489.20 505.0,489.20 506.0,489.20 507.0,489.20 508.0,489.20 509.0,489.20 510.0,489.20 511.0,489.20 512.0,489.20 513.0,489.20 514.0,489.20 515.0,489.20 516.0,489.20 517.0,489.20 518.0,489.20 519.0,489.20" fill="none" stroke="#d88a8f" stroke-width="1.1" clip-path="url(#cc)"/>
<line x1="328.3359135" y1="481" x2="328.3359135" y2="494.7" stroke="#7cc8a2" stroke-width="0.9"/>
<line x1="327.0359135" y1="481" x2="329.6359135" y2="481" stroke="#7cc8a2" stroke-width="0.9"/>
<line x1="327.0359135" y1="494.7" x2="329.6359135" y2="494.7" stroke="#7cc8a2" stroke-width="0.9"/>
<circle cx="328.3359135" cy="489" r="2.15" fill="#12924f"/>
<line x1="341.596285" y1="482.3" x2="341.596285" y2="493.8" stroke="#7cc8a2" stroke-width="0.9"/>
<line x1="340.296285" y1="482.3" x2="342.89628500000003" y2="482.3" stroke="#7cc8a2" stroke-width="0.9"/>
<line x1="340.296285" y1="493.8" x2="342.89628500000003" y2="493.8" stroke="#7cc8a2" stroke-width="0.9"/>
<circle cx="341.596285" cy="489" r="2.15" fill="#12924f"/>
<line x1="354.8566565" y1="482.6" x2="354.8566565" y2="493" stroke="#7cc8a2" stroke-width="0.9"/>
<line x1="353.5566565" y1="482.6" x2="356.1566565" y2="482.6" stroke="#7cc8a2" stroke-width="0.9"/>
<line x1="353.5566565" y1="493" x2="356.1566565" y2="493" stroke="#7cc8a2" stroke-width="0.9"/>
<circle cx="354.8566565" cy="489" r="2.15" fill="#12924f"/>
<line x1="368.117028" y1="484" x2="368.117028" y2="494" stroke="#7cc8a2" stroke-width="0.9"/>
<line x1="366.817028" y1="484" x2="369.417028" y2="484" stroke="#7cc8a2" stroke-width="0.9"/>
<line x1="366.817028" y1="494" x2="369.417028" y2="494" stroke="#7cc8a2" stroke-width="0.9"/>
<circle cx="368.117028" cy="489" r="2.15" fill="#12924f"/>
<circle cx="381.37739949999997" cy="489.2" r="2.15" fill="#12924f"/>
<circle cx="394.637771" cy="486.1" r="2.15" fill="#12924f"/>
<line x1="407.8981425" y1="476" x2="407.8981425" y2="485.2" stroke="#7cc8a2" stroke-width="0.9"/>
<line x1="406.5981425" y1="476" x2="409.1981425" y2="476" stroke="#7cc8a2" stroke-width="0.9"/>
<line x1="406.5981425" y1="485.2" x2="409.1981425" y2="485.2" stroke="#7cc8a2" stroke-width="0.9"/>
<circle cx="407.8981425" cy="481.6" r="2.15" fill="#12924f"/>
<circle cx="421.15851399999997" cy="479.1" r="2.15" fill="#12924f"/>
<line x1="434.4188855" y1="464.3" x2="434.4188855" y2="475" stroke="#7cc8a2" stroke-width="0.9"/>
<line x1="433.1188855" y1="464.3" x2="435.7188855" y2="464.3" stroke="#7cc8a2" stroke-width="0.9"/>
<line x1="433.1188855" y1="475" x2="435.7188855" y2="475" stroke="#7cc8a2" stroke-width="0.9"/>
<circle cx="434.4188855" cy="469.9" r="2.15" fill="#12924f"/>
<circle cx="447.679257" cy="449.8" r="2.15" fill="#12924f"/>
<line x1="460.9396285" y1="418" x2="460.9396285" y2="434.6" stroke="#7cc8a2" stroke-width="0.9"/>
<line x1="459.6396285" y1="418" x2="462.23962850000004" y2="418" stroke="#7cc8a2" stroke-width="0.9"/>
<line x1="459.6396285" y1="434.6" x2="462.23962850000004" y2="434.6" stroke="#7cc8a2" stroke-width="0.9"/>
<circle cx="460.9396285" cy="426.2" r="2.15" fill="#12924f"/>
<line x1="474.2" y1="377.8" x2="474.2" y2="412.2" stroke="#7cc8a2" stroke-width="0.9"/>
<line x1="472.9" y1="377.8" x2="475.5" y2="377.8" stroke="#7cc8a2" stroke-width="0.9"/>
<line x1="472.9" y1="412.2" x2="475.5" y2="412.2" stroke="#7cc8a2" stroke-width="0.9"/>
<circle cx="474.2" cy="394.9" r="2.15" fill="#12924f"/>
<circle cx="328.3359135" cy="488.3" r="2.15" fill="#9e0f18"/>
<circle cx="341.596285" cy="488.8" r="2.15" fill="#9e0f18"/>
<circle cx="354.8566565" cy="488.8" r="2.15" fill="#9e0f18"/>
<circle cx="368.117028" cy="488.8" r="2.15" fill="#9e0f18"/>
<circle cx="381.37739949999997" cy="489.6" r="2.15" fill="#9e0f18"/>
<circle cx="394.637771" cy="488.8" r="2.15" fill="#9e0f18"/>
<circle cx="407.8981425" cy="488" r="2.15" fill="#9e0f18"/>
<circle cx="421.15851399999997" cy="488.5" r="2.15" fill="#9e0f18"/>
<circle cx="434.4188855" cy="487.2" r="2.15" fill="#9e0f18"/>
<circle cx="447.679257" cy="486.5" r="2.15" fill="#9e0f18"/>
<circle cx="460.9396285" cy="488" r="2.15" fill="#9e0f18"/>
<line x1="474.2" y1="484.7" x2="474.2" y2="491.8" stroke="#cf6b72" stroke-width="0.9"/>
<line x1="472.9" y1="484.7" x2="475.5" y2="484.7" stroke="#cf6b72" stroke-width="0.9"/>
<line x1="472.9" y1="491.8" x2="475.5" y2="491.8" stroke="#cf6b72" stroke-width="0.9"/>
<circle cx="474.2" cy="488" r="2.15" fill="#9e0f18"/>
<rect x="272.3" y="366.2" width="268.90000000000003" height="140.8" fill="none" stroke="#aaaaaa" stroke-width="1.3"/>
<text x="257.9" y="438.5" font-size="8.3" text-anchor="middle" fill="#222" transform="rotate(-90 257.9 438.5)">Δ FNorm [%]</text>
<path d="M259.09999999999997,453.6102564102564 L260.0,452.4 L258.9,451.2 L260.0,450.0 L258.9,448.8 L260.0,447.6 L258.9,446.4 L260.0,445.2 L258.9,444.0 L260.0,442.8 L258.9,441.6 L260.0,440.4 L258.9,439.2 L260.0,438.0 L258.9,436.8 L260.0,435.6 L258.9,434.4 L260.0,433.2 L258.9,432.0 L260.0,430.8 L258.9,429.6 L260.0,428.4 L258.9,427.2" fill="none" stroke="#e62a2a" stroke-width="0.85"/>
<text x="275.4" y="502.9" font-size="9.3" fill="#111" stroke="#111" stroke-width="0.08" textLength="118.8" lengthAdjust="spacing">Kd = 100 µM ± 10.4 µM (n=3)</text>
<path d="M275.5,505.5 L276.7,504.7 L277.9,505.9 L279.1,504.7 L280.3,505.9 L281.5,504.7 L282.7,505.9 L283.9,504.7 L285.1,505.9 L286.3,504.7 L287.5,505.9 L288.7,504.7" fill="none" stroke="#e62a2a" stroke-width="0.9"/>
<text x="349.3" y="0" font-size="10.8" font-weight="bold" fill="#1a1a1a" textLength="141.2" lengthAdjust="spacingAndGlyphs" transform="translate(0 529.0) scale(1 0.95)">Rosolic Acid Concentration</text>
<circle cx="366.8" cy="540.3" r="3.1" fill="#1aa054"/>
<text x="373.2" y="542.8" font-size="8.2" font-weight="bold" fill="#1a1a1a">LsrK</text>
<path d="M373.8,544.8 L375.0,545.8 L376.2,544.8 L377.4,545.8 L378.6,544.8 L379.8,545.8 L381.0,544.8 L382.2,545.8 L383.4,544.8 L384.6,545.8 L385.8,544.8 L387.0,545.8 L388.2,544.8 L389.4,545.8 L390.6,544.8" fill="none" stroke="#e02828" stroke-width="0.8"/>
<circle cx="405.2" cy="540.3" r="3.1" fill="#b01018"/>
<text x="412.3" y="542.8" font-size="8.2" font-weight="bold" fill="#1a1a1a" textLength="61.3" lengthAdjust="spacingAndGlyphs">Control Peptide</text>
</svg>
</body></html>
